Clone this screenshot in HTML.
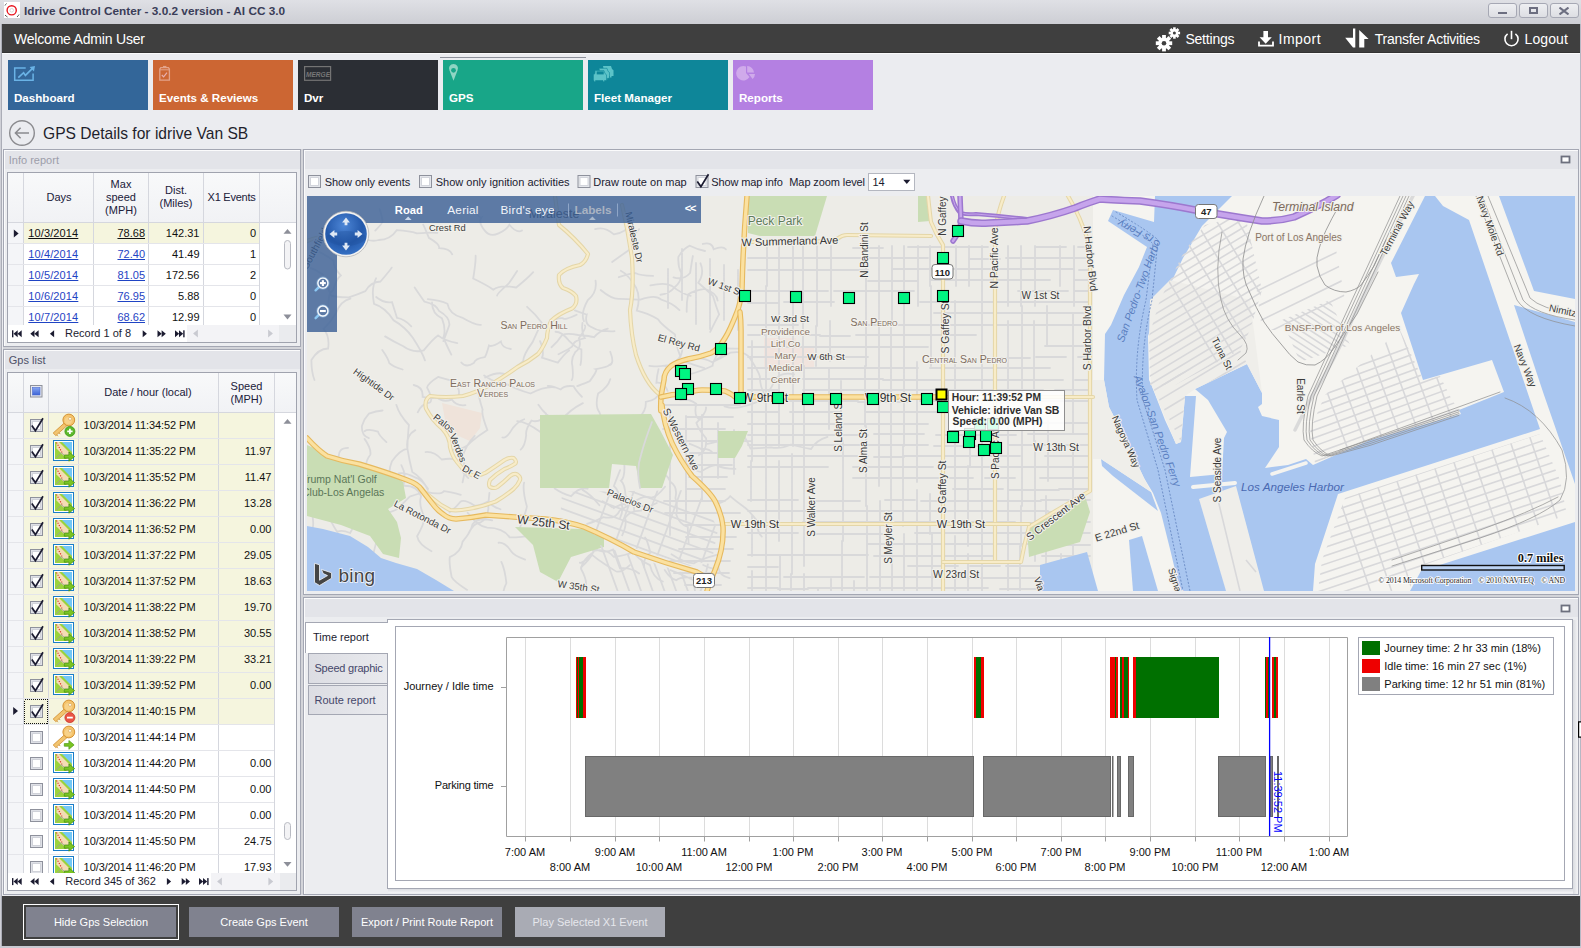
<!DOCTYPE html><html><head><meta charset="utf-8"><style>
*{box-sizing:border-box;margin:0;padding:0}
html,body{width:1581px;height:948px;overflow:hidden}
body{position:relative;background:#ebecf0;font-family:"Liberation Sans",sans-serif;font-size:11px;color:#1e1e1e}
.a{position:absolute}
.nw{white-space:nowrap}
#tb{left:0;top:0;width:1581px;height:24px;background:linear-gradient(#dfe0e5,#cdced4)}
#tbt{left:24px;top:4px;font-weight:bold;font-size:11.8px;color:#3a3d58;white-space:nowrap}
.wb{top:3px;width:29px;height:15px;border:1px solid #a6a8b4;border-radius:3px;background:linear-gradient(#eeeff2,#dddee3)}
#hdr{left:2px;top:24px;width:1578px;height:29px;background:#3f3f3f;color:#fff;border-bottom:1px solid #333}
#hdr .t{position:absolute;top:6px;font-size:14px;white-space:nowrap}
.tile{position:absolute;top:60px;width:140px;height:50px;color:#fff;font-weight:bold;font-size:12px}
.tile span{position:absolute;left:6px;top:31px;white-space:nowrap}
.tile svg{position:absolute;left:0;top:0}
.panel{position:absolute;border:1px solid #a4a7b3;background:#ecedf0}
.panel .ph{position:absolute;left:0;top:0;right:0;height:19px;background:#e3e4e8;border-top:1px solid #fdfdfe;border-left:1px solid #fdfdfe}
.panel .ph span{position:absolute;left:4px;top:3px;font-size:11px}
.grid{position:absolute;background:#fff;border:1px solid #a4a7b3;overflow:hidden}
.btn{position:absolute;top:907px;height:30px;background:#7b7e8c;color:#fff;font-size:12px;text-align:center;line-height:30px;white-space:nowrap}
.hc{position:absolute;top:0;height:49px;background:linear-gradient(#f7f8fa,#eff0f3);border-right:1px solid #d3d5dc;text-align:center;color:#1e1e2e}
.cell{position:absolute;white-space:nowrap}
.lk{color:#2046c8;text-decoration:underline}
</style></head><body>
<div id="tb" class="a"></div>
<svg class="a" style="left:4px;top:2px" width="16" height="16" viewBox="0 0 16 16">
<rect width="16" height="16" fill="#fff"/>
<circle cx="7.7" cy="8.3" r="4.6" fill="none" stroke="#e8141e" stroke-width="1.4"/>
<circle cx="7.7" cy="8.3" r="1.8" fill="none" stroke="#c8c8c8" stroke-width="0.7"/>
<path d="M1 3.5 A9 9 0 0 1 2.5 1.5 M1 13 A9 9 0 0 0 3.5 15 M13 15 A9 9 0 0 0 15 12.5" stroke="#555" stroke-width="1" fill="none"/>
</svg>
<div id="tbt" class="a">Idrive Control Center - 3.0.2 version - AI CC 3.0</div>
<div class="a wb" style="left:1488px"></div>
<div class="a wb" style="left:1519px"></div>
<div class="a wb" style="left:1550px"></div>
<div class="a" style="left:1498px;top:12px;width:9px;height:2px;background:#6c6e80"></div>
<div class="a" style="left:1529px;top:7px;width:9px;height:7px;border:2px solid #6c6e80"></div>
<svg class="a" style="left:1559px;top:7px" width="10" height="8"><path d="M0.5 0.5 L9.5 7.5 M9.5 0.5 L0.5 7.5" stroke="#6c6e80" stroke-width="2"/></svg>
<div class="a" style="left:0;top:24px;width:2px;height:924px;background:#cfd0d7"></div>
<div class="a" style="left:1px;top:24px;width:1px;height:924px;background:#abadb7"></div>
<div class="a" style="left:2px;top:53px;width:1578px;height:1px;background:#fafafb"></div>
<div class="a" style="left:1580px;top:24px;width:1px;height:924px;background:#b6b8c4"></div>
<div class="a" style="left:0;top:946px;width:1581px;height:2px;background:#c9cad2"></div>
<div id="hdr" class="a">
 <div class="t" style="left:12px;font-size:14px;top:7px;letter-spacing:-0.2px">Welcome Admin User</div>
 <div class="t" style="left:1183.4px;top:7px;letter-spacing:-0.2px">Settings</div>
 <div class="t" style="left:1276.6px;top:7px;letter-spacing:0.45px">Import</div>
 <div class="t" style="left:1372.8px;top:7px;letter-spacing:-0.27px">Transfer Activities</div>
 <div class="t" style="left:1522.5px;top:7px;letter-spacing:0.1px">Logout</div>
</div>
<svg class="a" style="left:1150px;top:24px" width="40" height="28" viewBox="1150 24 40 28"><g fill="#fff"><g transform="translate(1164,43.2)"><circle r="5.6"/><rect x="-1.9" y="-8.2" width="3.8" height="4" transform="rotate(0)"/><rect x="-1.9" y="-8.2" width="3.8" height="4" transform="rotate(45)"/><rect x="-1.9" y="-8.2" width="3.8" height="4" transform="rotate(90)"/><rect x="-1.9" y="-8.2" width="3.8" height="4" transform="rotate(135)"/><rect x="-1.9" y="-8.2" width="3.8" height="4" transform="rotate(180)"/><rect x="-1.9" y="-8.2" width="3.8" height="4" transform="rotate(225)"/><rect x="-1.9" y="-8.2" width="3.8" height="4" transform="rotate(270)"/><rect x="-1.9" y="-8.2" width="3.8" height="4" transform="rotate(315)"/><circle r="2.3" fill="#3f3f3f"/></g><g transform="translate(1174.4,33)"><circle r="3.9"/><rect x="-1.3" y="-5.7" width="2.6" height="3" transform="rotate(0)"/><rect x="-1.3" y="-5.7" width="2.6" height="3" transform="rotate(45)"/><rect x="-1.3" y="-5.7" width="2.6" height="3" transform="rotate(90)"/><rect x="-1.3" y="-5.7" width="2.6" height="3" transform="rotate(135)"/><rect x="-1.3" y="-5.7" width="2.6" height="3" transform="rotate(180)"/><rect x="-1.3" y="-5.7" width="2.6" height="3" transform="rotate(225)"/><rect x="-1.3" y="-5.7" width="2.6" height="3" transform="rotate(270)"/><rect x="-1.3" y="-5.7" width="2.6" height="3" transform="rotate(315)"/><circle r="1.5" fill="#3f3f3f"/></g></g></svg>
<svg class="a" style="left:1255px;top:28px" width="22" height="22" viewBox="1255 28 22 22">
<path d="M1263.4 31 h4.6 v6.2 h3.8 l-6.1 6.6 l-6.1 -6.6 h3.8z" fill="#fff"/>
<path d="M1259 41.5 v4.2 h14 v-4.2" fill="none" stroke="#fff" stroke-width="1.8"/>
</svg>
<svg class="a" style="left:1343px;top:27px" width="28" height="23" viewBox="1343 27 28 23">
<path d="M1353 28.6 h2.3 v19 h-2.3 l-7.8 -9.8 h7.8z" fill="#fff"/>
<path d="M1359.2 47.6 v-17.6 l9.4 9 h-4.3 v8.6z" fill="#fff"/>
</svg>
<svg class="a" style="left:1501px;top:28px" width="22" height="22" viewBox="1501 28 22 22">
<path d="M1507.6 33.8 A6.6 6.6 0 1 0 1515.4 33.8" fill="none" stroke="#fff" stroke-width="1.6"/>
<path d="M1511.5 30.8 v8.4" stroke="#fff" stroke-width="1.6"/>
</svg>
<div class="tile" style="left:8px;background:#336699"><span style="font-size:11.6px;top:30.5px">Dashboard</span></div>
<svg class="a" style="left:8px;top:60px" width="40" height="25" viewBox="8 60 40 25"><path d="M25.7 67.9 H14.7 V80.3 H33.1 V73.5" fill="none" stroke="#6ab3e6" stroke-width="1.5"/>
<path d="M18.3 77.7 L23.6 72.7 L25.4 75.4 L33.2 67.6" fill="none" stroke="#6ab3e6" stroke-width="1.6"/>
<path d="M35 66 L29.6 67 L34 71.4z" fill="#6ab3e6"/></svg>
<div class="tile" style="left:153px;background:#cc6633"><span style="font-size:11.6px;top:30.5px">Events &amp; Reviews</span></div>
<svg class="a" style="left:153px;top:60px" width="40" height="25" viewBox="153 60 40 25"><path d="M159.8 69 V80.2 H169.4 V69 l-1 -1.3 H160.8z" fill="none" stroke="#e3a38a" stroke-width="1.3"/>
<path d="M160 69.8 H169.2" stroke="#e3a38a" stroke-width="1"/>
<rect x="163" y="65.9" width="3.4" height="1.6" fill="#e3a38a"/>
<path d="M161.8 75 L163.6 76.8 L167 72.7" fill="none" stroke="#e8b0b0" stroke-width="1.2"/></svg>
<div class="tile" style="left:298px;background:#2b2e34"><span style="font-size:11.6px;top:30.5px">Dvr</span></div>
<svg class="a" style="left:298px;top:60px" width="40" height="25" viewBox="298 60 40 25"><rect x="304.6" y="66.6" width="26" height="13.7" fill="none" stroke="#747474" stroke-width="1.2"/>
<text x="306" y="77" font-family="Liberation Sans" font-weight="bold" font-style="italic" font-size="6.5" fill="#777" textLength="24" lengthAdjust="spacingAndGlyphs">MERGE</text></svg>
<div class="tile" style="left:443px;background:#18a688"><span style="font-size:11.6px;top:30.5px">GPS</span></div>
<svg class="a" style="left:443px;top:60px" width="40" height="25" viewBox="443 60 40 25"><path d="M453.5 80.8 L449.5 70.5 A4.5 4.5 0 1 1 457.5 70.5z" fill="#8fd5c3"/>
<circle cx="453.5" cy="70.3" r="2.4" fill="#18a688"/></svg>
<div class="tile" style="left:588px;background:#0e8699"><span style="font-size:11.6px;top:30.5px">Fleet Manager</span></div>
<svg class="a" style="left:588px;top:60px" width="40" height="25" viewBox="588 60 40 25"><g fill="#5cc3c8">
<path d="M603 66 h8 l1 3 l1.5 1.2 v5.8 h-2 v1.5 h-1.5 v-1.5 h-5z"/>
<path d="M599 68.3 h8 l1 3 l1.5 1.2 v5.8 h-2 v1.5 h-1.5 v-1.5 h-5z" stroke="#0e8699" stroke-width="0.6"/>
<path d="M595 70.6 h9 l1 3 l1.5 1.2 v5.8 h-2 v1.2 h-1.5 v-1.2 h-7.5 v1.2 h-1.5 v-1.2 h-0.6 v-5.8 l1.5 -1.2z" stroke="#0e8699" stroke-width="0.6"/>
</g>
<rect x="596.7" y="71.4" width="7" height="3" fill="#0e8699"/></svg>
<div class="tile" style="left:733px;background:#b480e2"><span style="font-size:11.6px;top:30.5px">Reports</span></div>
<svg class="a" style="left:733px;top:60px" width="40" height="25" viewBox="733 60 40 25"><path d="M746 66.5 V73 L749.5 77 A7.2 7.2 0 1 1 746 66.5z" fill="#d0aaeb"/>
<path d="M747.2 66 A7 7 0 0 1 754 72.5 H747.2z" fill="#d0aaeb"/>
<path d="M748.8 74 H755 A7 7 0 0 1 752.6 79z" fill="#d0aaeb"/></svg>
<div class="a" style="left:440px;top:57px;width:146px;height:1px;background:#8d909a"></div>
<svg class="a" style="left:8px;top:119px" width="28" height="28" viewBox="8 119 28 28">
<circle cx="22" cy="133" r="12.3" fill="none" stroke="#8b8b8f" stroke-width="1.4"/>
<path d="M15.5 133 H29 M20.6 127.8 L15.4 133 L20.6 138.2" fill="none" stroke="#8b8b8f" stroke-width="1.5"/>
</svg>
<div class="a nw" style="left:43px;top:124px;font-size:17px;color:#1f1f2c;transform:scaleX(0.918);transform-origin:0 0">GPS Details for idrive Van SB</div>
<div class="a" style="left:3px;top:149px;width:298px;height:198px;background:#ecedf0;border:1px solid #a4a7b3"></div>
<div class="a" style="left:4px;top:150px;width:296px;height:1px;background:#fbfbfc;"></div>
<div class="a" style="left:4px;top:150px;width:1px;height:196px;background:#fbfbfc;"></div>
<div class="a" style="left:5px;top:151px;width:295px;height:18px;background:#e3e4e9;"></div>
<div class="a nw" style="top:154.69px;font-size:11px;line-height:11px;color:#9d9eaa;left:8.8px;">Info report</div>
<div class="a" style="left:3px;top:347px;width:298px;height:2px;background:#d3d4d9;"></div>
<div class="a" style="left:301px;top:149px;width:2px;height:746px;background:#d3d4d9;"></div>
<div class="a" style="left:7px;top:172px;width:290px;height:171px;background:#fff;border:1px solid #a0a3ae"></div>
<div class="a" style="left:8px;top:173px;width:288px;height:49px;background:linear-gradient(#f8f9fa,#f1f2f5);"></div>
<div class="a" style="left:8px;top:222px;width:288px;height:1px;background:#d5d7de;"></div>
<div class="a" style="left:23px;top:173px;width:1px;height:50px;background:#d5d7de;"></div>
<div class="a" style="left:93px;top:173px;width:1px;height:50px;background:#d5d7de;"></div>
<div class="a" style="left:148px;top:173px;width:1px;height:50px;background:#d5d7de;"></div>
<div class="a" style="left:203px;top:173px;width:1px;height:50px;background:#d5d7de;"></div>
<div class="a" style="left:259px;top:173px;width:1px;height:50px;background:#d5d7de;"></div>
<div class="a" style="left:8px;top:223px;width:15px;height:102px;background:#f4f5f8;"></div>
<div class="a nw" style="top:191.69px;font-size:11px;line-height:11px;color:#20203a;left:-141.0px;width:400px;text-align:center;">Days</div>
<div class="a nw" style="top:178.69px;font-size:11px;line-height:11px;color:#20203a;left:-79.0px;width:400px;text-align:center;">Max</div>
<div class="a nw" style="top:191.69px;font-size:11px;line-height:11px;color:#20203a;left:-79.0px;width:400px;text-align:center;">speed</div>
<div class="a nw" style="top:204.69px;font-size:11px;line-height:11px;color:#20203a;left:-79.0px;width:400px;text-align:center;">(MPH)</div>
<div class="a nw" style="top:185.19px;font-size:11px;line-height:11px;color:#20203a;left:-24.0px;width:400px;text-align:center;">Dist.</div>
<div class="a nw" style="top:198.19px;font-size:11px;line-height:11px;color:#20203a;left:-24.0px;width:400px;text-align:center;">(Miles)</div>
<div class="a nw" style="top:191.69px;font-size:11px;line-height:11px;color:#20203a;left:31.5px;width:400px;text-align:center;letter-spacing:-0.25px">X1 Events</div>
<div class="a" style="left:0;top:0;width:300px;height:325px;overflow:hidden">
<div class="a" style="left:24px;top:223px;width:235px;height:20px;background:#f5f5de;"></div>
<div class="a" style="left:23px;top:223px;width:1px;height:21px;background:#d5d7de;"></div>
<div class="a" style="left:93px;top:223px;width:1px;height:21px;background:#d5d7de;"></div>
<div class="a" style="left:148px;top:223px;width:1px;height:21px;background:#d5d7de;"></div>
<div class="a" style="left:203px;top:223px;width:1px;height:21px;background:#d5d7de;"></div>
<div class="a" style="left:259px;top:223px;width:1px;height:21px;background:#d5d7de;"></div>
<div class="a" style="left:8px;top:243px;width:251px;height:1px;background:#e4e5ea;"></div>
<div class="a nw" style="top:227.69px;font-size:11px;line-height:11px;color:#111;left:28.3px;letter-spacing:0.12px"><span style="text-decoration:underline">10/3/2014</span></div>
<div class="a nw" style="top:227.69px;font-size:11px;line-height:11px;color:#111;left:-255px;width:400px;text-align:right;"><span style="text-decoration:underline">78.68</span></div>
<div class="a nw" style="top:227.69px;font-size:11px;line-height:11px;color:#111;left:-200.5px;width:400px;text-align:right;">142.31</div>
<div class="a nw" style="top:227.69px;font-size:11px;line-height:11px;color:#111;left:-144px;width:400px;text-align:right;">0</div>
<div class="a" style="left:23px;top:244px;width:1px;height:21px;background:#d5d7de;"></div>
<div class="a" style="left:93px;top:244px;width:1px;height:21px;background:#d5d7de;"></div>
<div class="a" style="left:148px;top:244px;width:1px;height:21px;background:#d5d7de;"></div>
<div class="a" style="left:203px;top:244px;width:1px;height:21px;background:#d5d7de;"></div>
<div class="a" style="left:259px;top:244px;width:1px;height:21px;background:#d5d7de;"></div>
<div class="a" style="left:8px;top:264px;width:251px;height:1px;background:#e4e5ea;"></div>
<div class="a nw" style="top:248.69px;font-size:11px;line-height:11px;color:#1f44c4;left:28.3px;letter-spacing:0.12px"><span style="text-decoration:underline">10/4/2014</span></div>
<div class="a nw" style="top:248.69px;font-size:11px;line-height:11px;color:#1f44c4;left:-255px;width:400px;text-align:right;"><span style="text-decoration:underline">72.40</span></div>
<div class="a nw" style="top:248.69px;font-size:11px;line-height:11px;color:#111;left:-200.5px;width:400px;text-align:right;">41.49</div>
<div class="a nw" style="top:248.69px;font-size:11px;line-height:11px;color:#111;left:-144px;width:400px;text-align:right;">1</div>
<div class="a" style="left:23px;top:265px;width:1px;height:21px;background:#d5d7de;"></div>
<div class="a" style="left:93px;top:265px;width:1px;height:21px;background:#d5d7de;"></div>
<div class="a" style="left:148px;top:265px;width:1px;height:21px;background:#d5d7de;"></div>
<div class="a" style="left:203px;top:265px;width:1px;height:21px;background:#d5d7de;"></div>
<div class="a" style="left:259px;top:265px;width:1px;height:21px;background:#d5d7de;"></div>
<div class="a" style="left:8px;top:285px;width:251px;height:1px;background:#e4e5ea;"></div>
<div class="a nw" style="top:269.69px;font-size:11px;line-height:11px;color:#1f44c4;left:28.3px;letter-spacing:0.12px"><span style="text-decoration:underline">10/5/2014</span></div>
<div class="a nw" style="top:269.69px;font-size:11px;line-height:11px;color:#1f44c4;left:-255px;width:400px;text-align:right;"><span style="text-decoration:underline">81.05</span></div>
<div class="a nw" style="top:269.69px;font-size:11px;line-height:11px;color:#111;left:-200.5px;width:400px;text-align:right;">172.56</div>
<div class="a nw" style="top:269.69px;font-size:11px;line-height:11px;color:#111;left:-144px;width:400px;text-align:right;">2</div>
<div class="a" style="left:23px;top:286px;width:1px;height:21px;background:#d5d7de;"></div>
<div class="a" style="left:93px;top:286px;width:1px;height:21px;background:#d5d7de;"></div>
<div class="a" style="left:148px;top:286px;width:1px;height:21px;background:#d5d7de;"></div>
<div class="a" style="left:203px;top:286px;width:1px;height:21px;background:#d5d7de;"></div>
<div class="a" style="left:259px;top:286px;width:1px;height:21px;background:#d5d7de;"></div>
<div class="a" style="left:8px;top:306px;width:251px;height:1px;background:#e4e5ea;"></div>
<div class="a nw" style="top:290.69px;font-size:11px;line-height:11px;color:#1f44c4;left:28.3px;letter-spacing:0.12px"><span style="text-decoration:underline">10/6/2014</span></div>
<div class="a nw" style="top:290.69px;font-size:11px;line-height:11px;color:#1f44c4;left:-255px;width:400px;text-align:right;"><span style="text-decoration:underline">76.95</span></div>
<div class="a nw" style="top:290.69px;font-size:11px;line-height:11px;color:#111;left:-200.5px;width:400px;text-align:right;">5.88</div>
<div class="a nw" style="top:290.69px;font-size:11px;line-height:11px;color:#111;left:-144px;width:400px;text-align:right;">0</div>
<div class="a" style="left:23px;top:307px;width:1px;height:21px;background:#d5d7de;"></div>
<div class="a" style="left:93px;top:307px;width:1px;height:21px;background:#d5d7de;"></div>
<div class="a" style="left:148px;top:307px;width:1px;height:21px;background:#d5d7de;"></div>
<div class="a" style="left:203px;top:307px;width:1px;height:21px;background:#d5d7de;"></div>
<div class="a" style="left:259px;top:307px;width:1px;height:21px;background:#d5d7de;"></div>
<div class="a" style="left:8px;top:327px;width:251px;height:1px;background:#e4e5ea;"></div>
<div class="a nw" style="top:311.69px;font-size:11px;line-height:11px;color:#1f44c4;left:28.3px;letter-spacing:0.12px"><span style="text-decoration:underline">10/7/2014</span></div>
<div class="a nw" style="top:311.69px;font-size:11px;line-height:11px;color:#1f44c4;left:-255px;width:400px;text-align:right;"><span style="text-decoration:underline">68.62</span></div>
<div class="a nw" style="top:311.69px;font-size:11px;line-height:11px;color:#111;left:-200.5px;width:400px;text-align:right;">12.99</div>
<div class="a nw" style="top:311.69px;font-size:11px;line-height:11px;color:#111;left:-144px;width:400px;text-align:right;">0</div>
</div>
<svg class="a" style="left:10px;top:224px" width="10" height="16" viewBox="10 224 10 16"><polygon points="13.799999999999999,229.4 18.599999999999998,233.4 13.799999999999999,237.4" fill="#1b1b30"/></svg>
<svg class="a" style="left:279px;top:223px" width="17" height="102" viewBox="279 223 17 102"><polygon points="283.5,233.70000000000002 287.5,228.9 291.5,233.70000000000002" fill="#8d8f99"/><polygon points="283.5,314.6 287.5,319.4 291.5,314.6" fill="#8d8f99"/><rect x="284.5" y="240.5" width="6" height="28.5" rx="3" fill="#f3f3f5" stroke="#b9bbc3"/></svg>
<div class="a" style="left:8px;top:325px;width:179px;height:17px;background:#fff;"></div>
<div class="a" style="left:187px;top:325px;width:92px;height:17px;background:#f3f3f6;"></div>
<div class="a" style="left:279px;top:325px;width:17px;height:17px;background:#eaebee;"></div>
<svg class="a" style="left:8px;top:325px" width="288" height="17" viewBox="8 325 288 17"><rect x="12" y="330.3" width="1.4" height="7" fill="#1b1b30"/><polygon points="17.7,330.3 13.5,333.8 17.7,337.3" fill="#1b1b30"/><polygon points="21.700000000000003,330.3 17.5,333.8 21.700000000000003,337.3" fill="#1b1b30"/><polygon points="34.5,330.3 30.299999999999997,333.8 34.5,337.3" fill="#1b1b30"/><polygon points="38.6,330.3 34.4,333.8 38.6,337.3" fill="#1b1b30"/><polygon points="54.1,330.3 49.9,333.8 54.1,337.3" fill="#1b1b30"/><polygon points="142.70000000000002,330.3 146.9,333.8 142.70000000000002,337.3" fill="#1b1b30"/><polygon points="157.5,330.3 161.7,333.8 157.5,337.3" fill="#1b1b30"/><polygon points="161.6,330.3 165.79999999999998,333.8 161.6,337.3" fill="#1b1b30"/><polygon points="175.0,330.3 179.2,333.8 175.0,337.3" fill="#1b1b30"/><polygon points="179.0,330.3 183.2,333.8 179.0,337.3" fill="#1b1b30"/><rect x="183.2" y="330.3" width="1.4" height="7" fill="#1b1b30"/><polygon points="197.9,329.6 193.1,333.6 197.9,337.6" fill="#c9cad1"/><polygon points="268.1,329.6 272.9,333.6 268.1,337.6" fill="#c9cad1"/></svg>
<div class="a nw" style="top:328.19px;font-size:11px;line-height:11px;color:#1b1b30;left:65px;">Record 1 of 8</div>
<div class="a" style="left:3px;top:349px;width:298px;height:546px;background:#ecedf0;border:1px solid #a4a7b3"></div>
<div class="a" style="left:4px;top:350px;width:296px;height:1px;background:#fbfbfc;"></div>
<div class="a" style="left:4px;top:350px;width:1px;height:544px;background:#fbfbfc;"></div>
<div class="a" style="left:5px;top:351px;width:295px;height:18px;background:#e3e4e9;"></div>
<div class="a nw" style="top:354.69px;font-size:11px;line-height:11px;color:#4e5068;left:8.8px;">Gps list</div>
<div class="a" style="left:7px;top:372px;width:290px;height:519px;background:#fff;border:1px solid #a0a3ae"></div>
<div class="a" style="left:8px;top:373px;width:288px;height:39px;background:linear-gradient(#f8f9fa,#f1f2f5);"></div>
<div class="a" style="left:8px;top:412px;width:288px;height:1px;background:#d5d7de;"></div>
<div class="a" style="left:23px;top:373px;width:1px;height:40px;background:#d5d7de;"></div>
<div class="a" style="left:48px;top:373px;width:1px;height:40px;background:#d5d7de;"></div>
<div class="a" style="left:78px;top:373px;width:1px;height:40px;background:#d5d7de;"></div>
<div class="a" style="left:218px;top:373px;width:1px;height:40px;background:#d5d7de;"></div>
<div class="a" style="left:274px;top:373px;width:1px;height:40px;background:#d5d7de;"></div>
<div class="a nw" style="top:386.69px;font-size:11px;line-height:11px;color:#20203a;left:-52.0px;width:400px;text-align:center;">Date / hour (local)</div>
<div class="a nw" style="top:380.69px;font-size:11px;line-height:11px;color:#20203a;left:46.5px;width:400px;text-align:center;">Speed</div>
<div class="a nw" style="top:393.69px;font-size:11px;line-height:11px;color:#20203a;left:46.5px;width:400px;text-align:center;">(MPH)</div>
<svg class="a" style="left:29px;top:384px" width="15" height="15" viewBox="29 384 15 15"><rect x="30.5" y="385.5" width="11.5" height="11.5" fill="#e6e8ee" stroke="#8e919c"/><defs><linearGradient id="hcb" x1="0" y1="0" x2="0" y2="1"><stop offset="0" stop-color="#86a6f2"/><stop offset="1" stop-color="#3c63d6"/></linearGradient></defs><rect x="32.5" y="387.5" width="7.5" height="7.5" fill="url(#hcb)" stroke="#4a6ad0" stroke-width="0.6"/></svg>
<div class="a" style="left:0;top:0;width:300px;height:873px;overflow:hidden">
<div class="a" style="left:8px;top:413px;width:15px;height:460px;background:#f4f5f8;"></div>
<div class="a" style="left:24px;top:413px;width:250px;height:25px;background:#f5f5de;"></div>
<div class="a" style="left:23px;top:413px;width:1px;height:26px;background:#d5d7de;"></div>
<div class="a" style="left:48px;top:413px;width:1px;height:26px;background:#d5d7de;"></div>
<div class="a" style="left:78px;top:413px;width:1px;height:26px;background:#d5d7de;"></div>
<div class="a" style="left:218px;top:413px;width:1px;height:26px;background:#d5d7de;"></div>
<div class="a" style="left:274px;top:413px;width:1px;height:26px;background:#d5d7de;"></div>
<div class="a" style="left:8px;top:438px;width:266px;height:1px;background:#e4e5ea;"></div>
<div class="a nw" style="top:419.69px;font-size:11px;line-height:11px;color:#111;left:83.6px;letter-spacing:-0.08px">10/3/2014 11:34:52 PM</div>
<div class="a" style="left:24px;top:439px;width:250px;height:25px;background:#f5f5de;"></div>
<div class="a" style="left:23px;top:439px;width:1px;height:26px;background:#d5d7de;"></div>
<div class="a" style="left:48px;top:439px;width:1px;height:26px;background:#d5d7de;"></div>
<div class="a" style="left:78px;top:439px;width:1px;height:26px;background:#d5d7de;"></div>
<div class="a" style="left:218px;top:439px;width:1px;height:26px;background:#d5d7de;"></div>
<div class="a" style="left:274px;top:439px;width:1px;height:26px;background:#d5d7de;"></div>
<div class="a" style="left:8px;top:464px;width:266px;height:1px;background:#e4e5ea;"></div>
<div class="a nw" style="top:445.69px;font-size:11px;line-height:11px;color:#111;left:83.6px;letter-spacing:-0.08px">10/3/2014 11:35:22 PM</div>
<div class="a nw" style="top:445.69px;font-size:11px;line-height:11px;color:#111;left:-128.5px;width:400px;text-align:right;">11.97</div>
<div class="a" style="left:24px;top:465px;width:250px;height:25px;background:#f5f5de;"></div>
<div class="a" style="left:23px;top:465px;width:1px;height:26px;background:#d5d7de;"></div>
<div class="a" style="left:48px;top:465px;width:1px;height:26px;background:#d5d7de;"></div>
<div class="a" style="left:78px;top:465px;width:1px;height:26px;background:#d5d7de;"></div>
<div class="a" style="left:218px;top:465px;width:1px;height:26px;background:#d5d7de;"></div>
<div class="a" style="left:274px;top:465px;width:1px;height:26px;background:#d5d7de;"></div>
<div class="a" style="left:8px;top:490px;width:266px;height:1px;background:#e4e5ea;"></div>
<div class="a nw" style="top:471.69px;font-size:11px;line-height:11px;color:#111;left:83.6px;letter-spacing:-0.08px">10/3/2014 11:35:52 PM</div>
<div class="a nw" style="top:471.69px;font-size:11px;line-height:11px;color:#111;left:-128.5px;width:400px;text-align:right;">11.47</div>
<div class="a" style="left:24px;top:491px;width:250px;height:25px;background:#f5f5de;"></div>
<div class="a" style="left:23px;top:491px;width:1px;height:26px;background:#d5d7de;"></div>
<div class="a" style="left:48px;top:491px;width:1px;height:26px;background:#d5d7de;"></div>
<div class="a" style="left:78px;top:491px;width:1px;height:26px;background:#d5d7de;"></div>
<div class="a" style="left:218px;top:491px;width:1px;height:26px;background:#d5d7de;"></div>
<div class="a" style="left:274px;top:491px;width:1px;height:26px;background:#d5d7de;"></div>
<div class="a" style="left:8px;top:516px;width:266px;height:1px;background:#e4e5ea;"></div>
<div class="a nw" style="top:497.69px;font-size:11px;line-height:11px;color:#111;left:83.6px;letter-spacing:-0.08px">10/3/2014 11:36:22 PM</div>
<div class="a nw" style="top:497.69px;font-size:11px;line-height:11px;color:#111;left:-128.5px;width:400px;text-align:right;">13.28</div>
<div class="a" style="left:24px;top:517px;width:250px;height:25px;background:#f5f5de;"></div>
<div class="a" style="left:23px;top:517px;width:1px;height:26px;background:#d5d7de;"></div>
<div class="a" style="left:48px;top:517px;width:1px;height:26px;background:#d5d7de;"></div>
<div class="a" style="left:78px;top:517px;width:1px;height:26px;background:#d5d7de;"></div>
<div class="a" style="left:218px;top:517px;width:1px;height:26px;background:#d5d7de;"></div>
<div class="a" style="left:274px;top:517px;width:1px;height:26px;background:#d5d7de;"></div>
<div class="a" style="left:8px;top:542px;width:266px;height:1px;background:#e4e5ea;"></div>
<div class="a nw" style="top:523.69px;font-size:11px;line-height:11px;color:#111;left:83.6px;letter-spacing:-0.08px">10/3/2014 11:36:52 PM</div>
<div class="a nw" style="top:523.69px;font-size:11px;line-height:11px;color:#111;left:-128.5px;width:400px;text-align:right;">0.00</div>
<div class="a" style="left:24px;top:543px;width:250px;height:25px;background:#f5f5de;"></div>
<div class="a" style="left:23px;top:543px;width:1px;height:26px;background:#d5d7de;"></div>
<div class="a" style="left:48px;top:543px;width:1px;height:26px;background:#d5d7de;"></div>
<div class="a" style="left:78px;top:543px;width:1px;height:26px;background:#d5d7de;"></div>
<div class="a" style="left:218px;top:543px;width:1px;height:26px;background:#d5d7de;"></div>
<div class="a" style="left:274px;top:543px;width:1px;height:26px;background:#d5d7de;"></div>
<div class="a" style="left:8px;top:568px;width:266px;height:1px;background:#e4e5ea;"></div>
<div class="a nw" style="top:549.69px;font-size:11px;line-height:11px;color:#111;left:83.6px;letter-spacing:-0.08px">10/3/2014 11:37:22 PM</div>
<div class="a nw" style="top:549.69px;font-size:11px;line-height:11px;color:#111;left:-128.5px;width:400px;text-align:right;">29.05</div>
<div class="a" style="left:24px;top:569px;width:250px;height:25px;background:#f5f5de;"></div>
<div class="a" style="left:23px;top:569px;width:1px;height:26px;background:#d5d7de;"></div>
<div class="a" style="left:48px;top:569px;width:1px;height:26px;background:#d5d7de;"></div>
<div class="a" style="left:78px;top:569px;width:1px;height:26px;background:#d5d7de;"></div>
<div class="a" style="left:218px;top:569px;width:1px;height:26px;background:#d5d7de;"></div>
<div class="a" style="left:274px;top:569px;width:1px;height:26px;background:#d5d7de;"></div>
<div class="a" style="left:8px;top:594px;width:266px;height:1px;background:#e4e5ea;"></div>
<div class="a nw" style="top:575.69px;font-size:11px;line-height:11px;color:#111;left:83.6px;letter-spacing:-0.08px">10/3/2014 11:37:52 PM</div>
<div class="a nw" style="top:575.69px;font-size:11px;line-height:11px;color:#111;left:-128.5px;width:400px;text-align:right;">18.63</div>
<div class="a" style="left:24px;top:595px;width:250px;height:25px;background:#f5f5de;"></div>
<div class="a" style="left:23px;top:595px;width:1px;height:26px;background:#d5d7de;"></div>
<div class="a" style="left:48px;top:595px;width:1px;height:26px;background:#d5d7de;"></div>
<div class="a" style="left:78px;top:595px;width:1px;height:26px;background:#d5d7de;"></div>
<div class="a" style="left:218px;top:595px;width:1px;height:26px;background:#d5d7de;"></div>
<div class="a" style="left:274px;top:595px;width:1px;height:26px;background:#d5d7de;"></div>
<div class="a" style="left:8px;top:620px;width:266px;height:1px;background:#e4e5ea;"></div>
<div class="a nw" style="top:601.69px;font-size:11px;line-height:11px;color:#111;left:83.6px;letter-spacing:-0.08px">10/3/2014 11:38:22 PM</div>
<div class="a nw" style="top:601.69px;font-size:11px;line-height:11px;color:#111;left:-128.5px;width:400px;text-align:right;">19.70</div>
<div class="a" style="left:24px;top:621px;width:250px;height:25px;background:#f5f5de;"></div>
<div class="a" style="left:23px;top:621px;width:1px;height:26px;background:#d5d7de;"></div>
<div class="a" style="left:48px;top:621px;width:1px;height:26px;background:#d5d7de;"></div>
<div class="a" style="left:78px;top:621px;width:1px;height:26px;background:#d5d7de;"></div>
<div class="a" style="left:218px;top:621px;width:1px;height:26px;background:#d5d7de;"></div>
<div class="a" style="left:274px;top:621px;width:1px;height:26px;background:#d5d7de;"></div>
<div class="a" style="left:8px;top:646px;width:266px;height:1px;background:#e4e5ea;"></div>
<div class="a nw" style="top:627.69px;font-size:11px;line-height:11px;color:#111;left:83.6px;letter-spacing:-0.08px">10/3/2014 11:38:52 PM</div>
<div class="a nw" style="top:627.69px;font-size:11px;line-height:11px;color:#111;left:-128.5px;width:400px;text-align:right;">30.55</div>
<div class="a" style="left:24px;top:647px;width:250px;height:25px;background:#f5f5de;"></div>
<div class="a" style="left:23px;top:647px;width:1px;height:26px;background:#d5d7de;"></div>
<div class="a" style="left:48px;top:647px;width:1px;height:26px;background:#d5d7de;"></div>
<div class="a" style="left:78px;top:647px;width:1px;height:26px;background:#d5d7de;"></div>
<div class="a" style="left:218px;top:647px;width:1px;height:26px;background:#d5d7de;"></div>
<div class="a" style="left:274px;top:647px;width:1px;height:26px;background:#d5d7de;"></div>
<div class="a" style="left:8px;top:672px;width:266px;height:1px;background:#e4e5ea;"></div>
<div class="a nw" style="top:653.69px;font-size:11px;line-height:11px;color:#111;left:83.6px;letter-spacing:-0.08px">10/3/2014 11:39:22 PM</div>
<div class="a nw" style="top:653.69px;font-size:11px;line-height:11px;color:#111;left:-128.5px;width:400px;text-align:right;">33.21</div>
<div class="a" style="left:24px;top:673px;width:250px;height:25px;background:#f5f5de;"></div>
<div class="a" style="left:23px;top:673px;width:1px;height:26px;background:#d5d7de;"></div>
<div class="a" style="left:48px;top:673px;width:1px;height:26px;background:#d5d7de;"></div>
<div class="a" style="left:78px;top:673px;width:1px;height:26px;background:#d5d7de;"></div>
<div class="a" style="left:218px;top:673px;width:1px;height:26px;background:#d5d7de;"></div>
<div class="a" style="left:274px;top:673px;width:1px;height:26px;background:#d5d7de;"></div>
<div class="a" style="left:8px;top:698px;width:266px;height:1px;background:#e4e5ea;"></div>
<div class="a nw" style="top:679.69px;font-size:11px;line-height:11px;color:#111;left:83.6px;letter-spacing:-0.08px">10/3/2014 11:39:52 PM</div>
<div class="a nw" style="top:679.69px;font-size:11px;line-height:11px;color:#111;left:-128.5px;width:400px;text-align:right;">0.00</div>
<div class="a" style="left:24px;top:699px;width:250px;height:25px;background:#f5f5de;"></div>
<div class="a" style="left:23px;top:699px;width:1px;height:26px;background:#d5d7de;"></div>
<div class="a" style="left:48px;top:699px;width:1px;height:26px;background:#d5d7de;"></div>
<div class="a" style="left:78px;top:699px;width:1px;height:26px;background:#d5d7de;"></div>
<div class="a" style="left:218px;top:699px;width:1px;height:26px;background:#d5d7de;"></div>
<div class="a" style="left:274px;top:699px;width:1px;height:26px;background:#d5d7de;"></div>
<div class="a" style="left:8px;top:724px;width:266px;height:1px;background:#e4e5ea;"></div>
<div class="a nw" style="top:705.69px;font-size:11px;line-height:11px;color:#111;left:83.6px;letter-spacing:-0.08px">10/3/2014 11:40:15 PM</div>
<div class="a" style="left:23px;top:725px;width:1px;height:26px;background:#d5d7de;"></div>
<div class="a" style="left:48px;top:725px;width:1px;height:26px;background:#d5d7de;"></div>
<div class="a" style="left:78px;top:725px;width:1px;height:26px;background:#d5d7de;"></div>
<div class="a" style="left:218px;top:725px;width:1px;height:26px;background:#d5d7de;"></div>
<div class="a" style="left:274px;top:725px;width:1px;height:26px;background:#d5d7de;"></div>
<div class="a" style="left:8px;top:750px;width:266px;height:1px;background:#e4e5ea;"></div>
<div class="a nw" style="top:731.69px;font-size:11px;line-height:11px;color:#111;left:83.6px;letter-spacing:-0.08px">10/3/2014 11:44:14 PM</div>
<div class="a" style="left:23px;top:751px;width:1px;height:26px;background:#d5d7de;"></div>
<div class="a" style="left:48px;top:751px;width:1px;height:26px;background:#d5d7de;"></div>
<div class="a" style="left:78px;top:751px;width:1px;height:26px;background:#d5d7de;"></div>
<div class="a" style="left:218px;top:751px;width:1px;height:26px;background:#d5d7de;"></div>
<div class="a" style="left:274px;top:751px;width:1px;height:26px;background:#d5d7de;"></div>
<div class="a" style="left:8px;top:776px;width:266px;height:1px;background:#e4e5ea;"></div>
<div class="a nw" style="top:757.69px;font-size:11px;line-height:11px;color:#111;left:83.6px;letter-spacing:-0.08px">10/3/2014 11:44:20 PM</div>
<div class="a nw" style="top:757.69px;font-size:11px;line-height:11px;color:#111;left:-128.5px;width:400px;text-align:right;">0.00</div>
<div class="a" style="left:23px;top:777px;width:1px;height:26px;background:#d5d7de;"></div>
<div class="a" style="left:48px;top:777px;width:1px;height:26px;background:#d5d7de;"></div>
<div class="a" style="left:78px;top:777px;width:1px;height:26px;background:#d5d7de;"></div>
<div class="a" style="left:218px;top:777px;width:1px;height:26px;background:#d5d7de;"></div>
<div class="a" style="left:274px;top:777px;width:1px;height:26px;background:#d5d7de;"></div>
<div class="a" style="left:8px;top:802px;width:266px;height:1px;background:#e4e5ea;"></div>
<div class="a nw" style="top:783.69px;font-size:11px;line-height:11px;color:#111;left:83.6px;letter-spacing:-0.08px">10/3/2014 11:44:50 PM</div>
<div class="a nw" style="top:783.69px;font-size:11px;line-height:11px;color:#111;left:-128.5px;width:400px;text-align:right;">0.00</div>
<div class="a" style="left:23px;top:803px;width:1px;height:26px;background:#d5d7de;"></div>
<div class="a" style="left:48px;top:803px;width:1px;height:26px;background:#d5d7de;"></div>
<div class="a" style="left:78px;top:803px;width:1px;height:26px;background:#d5d7de;"></div>
<div class="a" style="left:218px;top:803px;width:1px;height:26px;background:#d5d7de;"></div>
<div class="a" style="left:274px;top:803px;width:1px;height:26px;background:#d5d7de;"></div>
<div class="a" style="left:8px;top:828px;width:266px;height:1px;background:#e4e5ea;"></div>
<div class="a nw" style="top:809.69px;font-size:11px;line-height:11px;color:#111;left:83.6px;letter-spacing:-0.08px">10/3/2014 11:45:20 PM</div>
<div class="a nw" style="top:809.69px;font-size:11px;line-height:11px;color:#111;left:-128.5px;width:400px;text-align:right;">0.00</div>
<div class="a" style="left:23px;top:829px;width:1px;height:26px;background:#d5d7de;"></div>
<div class="a" style="left:48px;top:829px;width:1px;height:26px;background:#d5d7de;"></div>
<div class="a" style="left:78px;top:829px;width:1px;height:26px;background:#d5d7de;"></div>
<div class="a" style="left:218px;top:829px;width:1px;height:26px;background:#d5d7de;"></div>
<div class="a" style="left:274px;top:829px;width:1px;height:26px;background:#d5d7de;"></div>
<div class="a" style="left:8px;top:854px;width:266px;height:1px;background:#e4e5ea;"></div>
<div class="a nw" style="top:835.69px;font-size:11px;line-height:11px;color:#111;left:83.6px;letter-spacing:-0.08px">10/3/2014 11:45:50 PM</div>
<div class="a nw" style="top:835.69px;font-size:11px;line-height:11px;color:#111;left:-128.5px;width:400px;text-align:right;">24.75</div>
<div class="a" style="left:23px;top:855px;width:1px;height:26px;background:#d5d7de;"></div>
<div class="a" style="left:48px;top:855px;width:1px;height:26px;background:#d5d7de;"></div>
<div class="a" style="left:78px;top:855px;width:1px;height:26px;background:#d5d7de;"></div>
<div class="a" style="left:218px;top:855px;width:1px;height:26px;background:#d5d7de;"></div>
<div class="a" style="left:274px;top:855px;width:1px;height:26px;background:#d5d7de;"></div>
<div class="a" style="left:8px;top:880px;width:266px;height:1px;background:#e4e5ea;"></div>
<div class="a nw" style="top:861.69px;font-size:11px;line-height:11px;color:#111;left:83.6px;letter-spacing:-0.08px">10/3/2014 11:46:20 PM</div>
<div class="a nw" style="top:861.69px;font-size:11px;line-height:11px;color:#111;left:-128.5px;width:400px;text-align:right;">17.93</div>
<svg class="a" style="left:0;top:0" width="300" height="873" viewBox="0 0 300 873"><rect x="30.5" y="419.5" width="12" height="12" fill="#dfe1e7" stroke="#8e919c"/><rect x="32.5" y="421.5" width="8" height="8" fill="#fff" stroke="#d0d2d9" stroke-width="1"/><path d="M31.8 425.4 L35.4 430.6 L43 418.2" fill="none" stroke="#1b1b30" stroke-width="1.7"/><g transform="translate(0,0)"><g><path d="M53.2 433 L65.6 421.8 L68.2 424.6 L55.8 435.6 Z" fill="#f2c46f" stroke="#cf8c2c" stroke-width="0.8"/><path d="M56.6 434.9 l1.3 1.3 M59 432.8 l1.3 1.3" stroke="#cf8c2c" stroke-width="0.9"/><circle cx="68.8" cy="420" r="5.9" fill="#f5c46c" stroke="#d08a2a" stroke-width="0.9"/><circle cx="68.3" cy="420.6" r="3.6" fill="#f8d289"/><circle cx="70" cy="418.8" r="1.5" fill="#fffbe8" stroke="#c89040" stroke-width="0.5"/></g><circle cx="69.9" cy="431.4" r="5" fill="#5cb82a" stroke="#3e9a18" stroke-width="0.8"/><path d="M67.2 431.4 h5.4 M69.9 428.7 v5.4" stroke="#fff" stroke-width="1.8"/></g><rect x="30.5" y="445.5" width="12" height="12" fill="#dfe1e7" stroke="#8e919c"/><rect x="32.5" y="447.5" width="8" height="8" fill="#fff" stroke="#d0d2d9" stroke-width="1"/><path d="M31.8 451.4 L35.4 456.6 L43 444.2" fill="none" stroke="#1b1b30" stroke-width="1.7"/><g transform="translate(0,0)"><rect x="53.5" y="440.5" width="20" height="20" fill="#fff" stroke="#1a7cc8"/><rect x="55" y="442" width="17" height="17" fill="#9bd33c"/><path d="M59 442 L72 455 V459 H67 L56.5 448.5 V442z" fill="#f3dcb4"/><path d="M62 442 H72 V452z" fill="#74c8f6"/><path d="M56.5 442.5 L62 452.5" stroke="#e03020" stroke-width="1.1" stroke-dasharray="1.2 1.4"/><path d="M56 458 L61.5 452.8 L64 455" stroke="#9a9a9a" stroke-width="0.8" fill="none"/><path d="M64.3 455 h4.6 v-3 l5.7 4.6 l-5.7 4.6 v-3 h-4.6z" fill="#7ac422" stroke="#3f8c12" stroke-width="0.7"/></g><rect x="30.5" y="471.5" width="12" height="12" fill="#dfe1e7" stroke="#8e919c"/><rect x="32.5" y="473.5" width="8" height="8" fill="#fff" stroke="#d0d2d9" stroke-width="1"/><path d="M31.8 477.4 L35.4 482.6 L43 470.2" fill="none" stroke="#1b1b30" stroke-width="1.7"/><g transform="translate(0,26)"><rect x="53.5" y="440.5" width="20" height="20" fill="#fff" stroke="#1a7cc8"/><rect x="55" y="442" width="17" height="17" fill="#9bd33c"/><path d="M59 442 L72 455 V459 H67 L56.5 448.5 V442z" fill="#f3dcb4"/><path d="M62 442 H72 V452z" fill="#74c8f6"/><path d="M56.5 442.5 L62 452.5" stroke="#e03020" stroke-width="1.1" stroke-dasharray="1.2 1.4"/><path d="M56 458 L61.5 452.8 L64 455" stroke="#9a9a9a" stroke-width="0.8" fill="none"/><path d="M64.3 455 h4.6 v-3 l5.7 4.6 l-5.7 4.6 v-3 h-4.6z" fill="#7ac422" stroke="#3f8c12" stroke-width="0.7"/></g><rect x="30.5" y="497.5" width="12" height="12" fill="#dfe1e7" stroke="#8e919c"/><rect x="32.5" y="499.5" width="8" height="8" fill="#fff" stroke="#d0d2d9" stroke-width="1"/><path d="M31.8 503.4 L35.4 508.6 L43 496.2" fill="none" stroke="#1b1b30" stroke-width="1.7"/><g transform="translate(0,52)"><rect x="53.5" y="440.5" width="20" height="20" fill="#fff" stroke="#1a7cc8"/><rect x="55" y="442" width="17" height="17" fill="#9bd33c"/><path d="M59 442 L72 455 V459 H67 L56.5 448.5 V442z" fill="#f3dcb4"/><path d="M62 442 H72 V452z" fill="#74c8f6"/><path d="M56.5 442.5 L62 452.5" stroke="#e03020" stroke-width="1.1" stroke-dasharray="1.2 1.4"/><path d="M56 458 L61.5 452.8 L64 455" stroke="#9a9a9a" stroke-width="0.8" fill="none"/><path d="M64.3 455 h4.6 v-3 l5.7 4.6 l-5.7 4.6 v-3 h-4.6z" fill="#7ac422" stroke="#3f8c12" stroke-width="0.7"/></g><rect x="30.5" y="523.5" width="12" height="12" fill="#dfe1e7" stroke="#8e919c"/><rect x="32.5" y="525.5" width="8" height="8" fill="#fff" stroke="#d0d2d9" stroke-width="1"/><path d="M31.8 529.4 L35.4 534.6 L43 522.2" fill="none" stroke="#1b1b30" stroke-width="1.7"/><g transform="translate(0,78)"><rect x="53.5" y="440.5" width="20" height="20" fill="#fff" stroke="#1a7cc8"/><rect x="55" y="442" width="17" height="17" fill="#9bd33c"/><path d="M59 442 L72 455 V459 H67 L56.5 448.5 V442z" fill="#f3dcb4"/><path d="M62 442 H72 V452z" fill="#74c8f6"/><path d="M56.5 442.5 L62 452.5" stroke="#e03020" stroke-width="1.1" stroke-dasharray="1.2 1.4"/><path d="M56 458 L61.5 452.8 L64 455" stroke="#9a9a9a" stroke-width="0.8" fill="none"/><path d="M64.3 455 h4.6 v-3 l5.7 4.6 l-5.7 4.6 v-3 h-4.6z" fill="#7ac422" stroke="#3f8c12" stroke-width="0.7"/></g><rect x="30.5" y="549.5" width="12" height="12" fill="#dfe1e7" stroke="#8e919c"/><rect x="32.5" y="551.5" width="8" height="8" fill="#fff" stroke="#d0d2d9" stroke-width="1"/><path d="M31.8 555.4 L35.4 560.6 L43 548.2" fill="none" stroke="#1b1b30" stroke-width="1.7"/><g transform="translate(0,104)"><rect x="53.5" y="440.5" width="20" height="20" fill="#fff" stroke="#1a7cc8"/><rect x="55" y="442" width="17" height="17" fill="#9bd33c"/><path d="M59 442 L72 455 V459 H67 L56.5 448.5 V442z" fill="#f3dcb4"/><path d="M62 442 H72 V452z" fill="#74c8f6"/><path d="M56.5 442.5 L62 452.5" stroke="#e03020" stroke-width="1.1" stroke-dasharray="1.2 1.4"/><path d="M56 458 L61.5 452.8 L64 455" stroke="#9a9a9a" stroke-width="0.8" fill="none"/><path d="M64.3 455 h4.6 v-3 l5.7 4.6 l-5.7 4.6 v-3 h-4.6z" fill="#7ac422" stroke="#3f8c12" stroke-width="0.7"/></g><rect x="30.5" y="575.5" width="12" height="12" fill="#dfe1e7" stroke="#8e919c"/><rect x="32.5" y="577.5" width="8" height="8" fill="#fff" stroke="#d0d2d9" stroke-width="1"/><path d="M31.8 581.4 L35.4 586.6 L43 574.2" fill="none" stroke="#1b1b30" stroke-width="1.7"/><g transform="translate(0,130)"><rect x="53.5" y="440.5" width="20" height="20" fill="#fff" stroke="#1a7cc8"/><rect x="55" y="442" width="17" height="17" fill="#9bd33c"/><path d="M59 442 L72 455 V459 H67 L56.5 448.5 V442z" fill="#f3dcb4"/><path d="M62 442 H72 V452z" fill="#74c8f6"/><path d="M56.5 442.5 L62 452.5" stroke="#e03020" stroke-width="1.1" stroke-dasharray="1.2 1.4"/><path d="M56 458 L61.5 452.8 L64 455" stroke="#9a9a9a" stroke-width="0.8" fill="none"/><path d="M64.3 455 h4.6 v-3 l5.7 4.6 l-5.7 4.6 v-3 h-4.6z" fill="#7ac422" stroke="#3f8c12" stroke-width="0.7"/></g><rect x="30.5" y="601.5" width="12" height="12" fill="#dfe1e7" stroke="#8e919c"/><rect x="32.5" y="603.5" width="8" height="8" fill="#fff" stroke="#d0d2d9" stroke-width="1"/><path d="M31.8 607.4 L35.4 612.6 L43 600.2" fill="none" stroke="#1b1b30" stroke-width="1.7"/><g transform="translate(0,156)"><rect x="53.5" y="440.5" width="20" height="20" fill="#fff" stroke="#1a7cc8"/><rect x="55" y="442" width="17" height="17" fill="#9bd33c"/><path d="M59 442 L72 455 V459 H67 L56.5 448.5 V442z" fill="#f3dcb4"/><path d="M62 442 H72 V452z" fill="#74c8f6"/><path d="M56.5 442.5 L62 452.5" stroke="#e03020" stroke-width="1.1" stroke-dasharray="1.2 1.4"/><path d="M56 458 L61.5 452.8 L64 455" stroke="#9a9a9a" stroke-width="0.8" fill="none"/><path d="M64.3 455 h4.6 v-3 l5.7 4.6 l-5.7 4.6 v-3 h-4.6z" fill="#7ac422" stroke="#3f8c12" stroke-width="0.7"/></g><rect x="30.5" y="627.5" width="12" height="12" fill="#dfe1e7" stroke="#8e919c"/><rect x="32.5" y="629.5" width="8" height="8" fill="#fff" stroke="#d0d2d9" stroke-width="1"/><path d="M31.8 633.4 L35.4 638.6 L43 626.2" fill="none" stroke="#1b1b30" stroke-width="1.7"/><g transform="translate(0,182)"><rect x="53.5" y="440.5" width="20" height="20" fill="#fff" stroke="#1a7cc8"/><rect x="55" y="442" width="17" height="17" fill="#9bd33c"/><path d="M59 442 L72 455 V459 H67 L56.5 448.5 V442z" fill="#f3dcb4"/><path d="M62 442 H72 V452z" fill="#74c8f6"/><path d="M56.5 442.5 L62 452.5" stroke="#e03020" stroke-width="1.1" stroke-dasharray="1.2 1.4"/><path d="M56 458 L61.5 452.8 L64 455" stroke="#9a9a9a" stroke-width="0.8" fill="none"/><path d="M64.3 455 h4.6 v-3 l5.7 4.6 l-5.7 4.6 v-3 h-4.6z" fill="#7ac422" stroke="#3f8c12" stroke-width="0.7"/></g><rect x="30.5" y="653.5" width="12" height="12" fill="#dfe1e7" stroke="#8e919c"/><rect x="32.5" y="655.5" width="8" height="8" fill="#fff" stroke="#d0d2d9" stroke-width="1"/><path d="M31.8 659.4 L35.4 664.6 L43 652.2" fill="none" stroke="#1b1b30" stroke-width="1.7"/><g transform="translate(0,208)"><rect x="53.5" y="440.5" width="20" height="20" fill="#fff" stroke="#1a7cc8"/><rect x="55" y="442" width="17" height="17" fill="#9bd33c"/><path d="M59 442 L72 455 V459 H67 L56.5 448.5 V442z" fill="#f3dcb4"/><path d="M62 442 H72 V452z" fill="#74c8f6"/><path d="M56.5 442.5 L62 452.5" stroke="#e03020" stroke-width="1.1" stroke-dasharray="1.2 1.4"/><path d="M56 458 L61.5 452.8 L64 455" stroke="#9a9a9a" stroke-width="0.8" fill="none"/><path d="M64.3 455 h4.6 v-3 l5.7 4.6 l-5.7 4.6 v-3 h-4.6z" fill="#7ac422" stroke="#3f8c12" stroke-width="0.7"/></g><rect x="30.5" y="679.5" width="12" height="12" fill="#dfe1e7" stroke="#8e919c"/><rect x="32.5" y="681.5" width="8" height="8" fill="#fff" stroke="#d0d2d9" stroke-width="1"/><path d="M31.8 685.4 L35.4 690.6 L43 678.2" fill="none" stroke="#1b1b30" stroke-width="1.7"/><g transform="translate(0,234)"><rect x="53.5" y="440.5" width="20" height="20" fill="#fff" stroke="#1a7cc8"/><rect x="55" y="442" width="17" height="17" fill="#9bd33c"/><path d="M59 442 L72 455 V459 H67 L56.5 448.5 V442z" fill="#f3dcb4"/><path d="M62 442 H72 V452z" fill="#74c8f6"/><path d="M56.5 442.5 L62 452.5" stroke="#e03020" stroke-width="1.1" stroke-dasharray="1.2 1.4"/><path d="M56 458 L61.5 452.8 L64 455" stroke="#9a9a9a" stroke-width="0.8" fill="none"/><path d="M64.3 455 h4.6 v-3 l5.7 4.6 l-5.7 4.6 v-3 h-4.6z" fill="#7ac422" stroke="#3f8c12" stroke-width="0.7"/></g><rect x="30.5" y="705.5" width="12" height="12" fill="#dfe1e7" stroke="#8e919c"/><rect x="32.5" y="707.5" width="8" height="8" fill="#fff" stroke="#d0d2d9" stroke-width="1"/><path d="M31.8 711.4 L35.4 716.6 L43 704.2" fill="none" stroke="#1b1b30" stroke-width="1.7"/><g transform="translate(0,286)"><g><path d="M53.2 433 L65.6 421.8 L68.2 424.6 L55.8 435.6 Z" fill="#f2c46f" stroke="#cf8c2c" stroke-width="0.8"/><path d="M56.6 434.9 l1.3 1.3 M59 432.8 l1.3 1.3" stroke="#cf8c2c" stroke-width="0.9"/><circle cx="68.8" cy="420" r="5.9" fill="#f5c46c" stroke="#d08a2a" stroke-width="0.9"/><circle cx="68.3" cy="420.6" r="3.6" fill="#f8d289"/><circle cx="70" cy="418.8" r="1.5" fill="#fffbe8" stroke="#c89040" stroke-width="0.5"/></g><circle cx="69.9" cy="431.6" r="5" fill="#ea5444" stroke="#c8392c" stroke-width="0.8"/><path d="M67 431.6 h5.8" stroke="#fff" stroke-width="1.8"/></g><rect x="30.5" y="731.5" width="12" height="12" fill="#dfe1e7" stroke="#8e919c"/><rect x="32.5" y="733.5" width="8" height="8" fill="#fff" stroke="#d0d2d9" stroke-width="1"/><g transform="translate(0,312)"><g><path d="M53.2 433 L65.6 421.8 L68.2 424.6 L55.8 435.6 Z" fill="#f2c46f" stroke="#cf8c2c" stroke-width="0.8"/><path d="M56.6 434.9 l1.3 1.3 M59 432.8 l1.3 1.3" stroke="#cf8c2c" stroke-width="0.9"/><circle cx="68.8" cy="420" r="5.9" fill="#f5c46c" stroke="#d08a2a" stroke-width="0.9"/><circle cx="68.3" cy="420.6" r="3.6" fill="#f8d289"/><circle cx="70" cy="418.8" r="1.5" fill="#fffbe8" stroke="#c89040" stroke-width="0.5"/></g><path d="M64.3 431.6 h4.6 v-3.1 l5.2 4.4 l-5.2 4.4 v-3.1 h-4.6z" fill="#7ac422" stroke="#4a9a12" stroke-width="0.7"/></g><rect x="30.5" y="757.5" width="12" height="12" fill="#dfe1e7" stroke="#8e919c"/><rect x="32.5" y="759.5" width="8" height="8" fill="#fff" stroke="#d0d2d9" stroke-width="1"/><g transform="translate(0,312)"><rect x="53.5" y="440.5" width="20" height="20" fill="#fff" stroke="#1a7cc8"/><rect x="55" y="442" width="17" height="17" fill="#9bd33c"/><path d="M59 442 L72 455 V459 H67 L56.5 448.5 V442z" fill="#f3dcb4"/><path d="M62 442 H72 V452z" fill="#74c8f6"/><path d="M56.5 442.5 L62 452.5" stroke="#e03020" stroke-width="1.1" stroke-dasharray="1.2 1.4"/><path d="M56 458 L61.5 452.8 L64 455" stroke="#9a9a9a" stroke-width="0.8" fill="none"/><path d="M64.3 455 h4.6 v-3 l5.7 4.6 l-5.7 4.6 v-3 h-4.6z" fill="#7ac422" stroke="#3f8c12" stroke-width="0.7"/></g><rect x="30.5" y="783.5" width="12" height="12" fill="#dfe1e7" stroke="#8e919c"/><rect x="32.5" y="785.5" width="8" height="8" fill="#fff" stroke="#d0d2d9" stroke-width="1"/><g transform="translate(0,338)"><rect x="53.5" y="440.5" width="20" height="20" fill="#fff" stroke="#1a7cc8"/><rect x="55" y="442" width="17" height="17" fill="#9bd33c"/><path d="M59 442 L72 455 V459 H67 L56.5 448.5 V442z" fill="#f3dcb4"/><path d="M62 442 H72 V452z" fill="#74c8f6"/><path d="M56.5 442.5 L62 452.5" stroke="#e03020" stroke-width="1.1" stroke-dasharray="1.2 1.4"/><path d="M56 458 L61.5 452.8 L64 455" stroke="#9a9a9a" stroke-width="0.8" fill="none"/><path d="M64.3 455 h4.6 v-3 l5.7 4.6 l-5.7 4.6 v-3 h-4.6z" fill="#7ac422" stroke="#3f8c12" stroke-width="0.7"/></g><rect x="30.5" y="809.5" width="12" height="12" fill="#dfe1e7" stroke="#8e919c"/><rect x="32.5" y="811.5" width="8" height="8" fill="#fff" stroke="#d0d2d9" stroke-width="1"/><g transform="translate(0,364)"><rect x="53.5" y="440.5" width="20" height="20" fill="#fff" stroke="#1a7cc8"/><rect x="55" y="442" width="17" height="17" fill="#9bd33c"/><path d="M59 442 L72 455 V459 H67 L56.5 448.5 V442z" fill="#f3dcb4"/><path d="M62 442 H72 V452z" fill="#74c8f6"/><path d="M56.5 442.5 L62 452.5" stroke="#e03020" stroke-width="1.1" stroke-dasharray="1.2 1.4"/><path d="M56 458 L61.5 452.8 L64 455" stroke="#9a9a9a" stroke-width="0.8" fill="none"/><path d="M64.3 455 h4.6 v-3 l5.7 4.6 l-5.7 4.6 v-3 h-4.6z" fill="#7ac422" stroke="#3f8c12" stroke-width="0.7"/></g><rect x="30.5" y="835.5" width="12" height="12" fill="#dfe1e7" stroke="#8e919c"/><rect x="32.5" y="837.5" width="8" height="8" fill="#fff" stroke="#d0d2d9" stroke-width="1"/><g transform="translate(0,390)"><rect x="53.5" y="440.5" width="20" height="20" fill="#fff" stroke="#1a7cc8"/><rect x="55" y="442" width="17" height="17" fill="#9bd33c"/><path d="M59 442 L72 455 V459 H67 L56.5 448.5 V442z" fill="#f3dcb4"/><path d="M62 442 H72 V452z" fill="#74c8f6"/><path d="M56.5 442.5 L62 452.5" stroke="#e03020" stroke-width="1.1" stroke-dasharray="1.2 1.4"/><path d="M56 458 L61.5 452.8 L64 455" stroke="#9a9a9a" stroke-width="0.8" fill="none"/><path d="M64.3 455 h4.6 v-3 l5.7 4.6 l-5.7 4.6 v-3 h-4.6z" fill="#7ac422" stroke="#3f8c12" stroke-width="0.7"/></g><rect x="30.5" y="861.5" width="12" height="12" fill="#dfe1e7" stroke="#8e919c"/><rect x="32.5" y="863.5" width="8" height="8" fill="#fff" stroke="#d0d2d9" stroke-width="1"/><g transform="translate(0,416)"><rect x="53.5" y="440.5" width="20" height="20" fill="#fff" stroke="#1a7cc8"/><rect x="55" y="442" width="17" height="17" fill="#9bd33c"/><path d="M59 442 L72 455 V459 H67 L56.5 448.5 V442z" fill="#f3dcb4"/><path d="M62 442 H72 V452z" fill="#74c8f6"/><path d="M56.5 442.5 L62 452.5" stroke="#e03020" stroke-width="1.1" stroke-dasharray="1.2 1.4"/><path d="M56 458 L61.5 452.8 L64 455" stroke="#9a9a9a" stroke-width="0.8" fill="none"/><path d="M64.3 455 h4.6 v-3 l5.7 4.6 l-5.7 4.6 v-3 h-4.6z" fill="#7ac422" stroke="#3f8c12" stroke-width="0.7"/></g><rect x="24.5" y="699.5" width="23" height="24" fill="none" stroke="#111" stroke-dasharray="1 1" shape-rendering="crispEdges"/><polygon points="13.2,707 18.0,711 13.2,715" fill="#1b1b30"/></svg>
</div>
<svg class="a" style="left:279px;top:413px" width="17" height="460" viewBox="279 413 17 460"><polygon points="283.5,423.7 287.5,418.90000000000003 291.5,423.7" fill="#8d8f99"/><polygon points="283.5,861.9 287.5,866.6999999999999 291.5,861.9" fill="#8d8f99"/><rect x="284.5" y="822.5" width="6" height="17" rx="3" fill="#f3f3f5" stroke="#b9bbc3"/></svg>
<div class="a" style="left:8px;top:873px;width:203px;height:17px;background:#fff;"></div>
<div class="a" style="left:211px;top:873px;width:69px;height:17px;background:#f3f3f6;"></div>
<div class="a" style="left:280px;top:873px;width:16px;height:17px;background:#eaebee;"></div>
<svg class="a" style="left:8px;top:873px" width="288" height="17" viewBox="8 873 288 17"><rect x="12" y="878.1" width="1.4" height="7" fill="#1b1b30"/><polygon points="17.7,878.1 13.5,881.6 17.7,885.1" fill="#1b1b30"/><polygon points="21.700000000000003,878.1 17.5,881.6 21.700000000000003,885.1" fill="#1b1b30"/><polygon points="34.5,878.1 30.299999999999997,881.6 34.5,885.1" fill="#1b1b30"/><polygon points="38.6,878.1 34.4,881.6 38.6,885.1" fill="#1b1b30"/><polygon points="54.1,878.1 49.9,881.6 54.1,885.1" fill="#1b1b30"/><polygon points="166.9,878.1 171.1,881.6 166.9,885.1" fill="#1b1b30"/><polygon points="181.7,878.1 185.89999999999998,881.6 181.7,885.1" fill="#1b1b30"/><polygon points="185.79999999999998,878.1 189.99999999999997,881.6 185.79999999999998,885.1" fill="#1b1b30"/><polygon points="199.0,878.1 203.2,881.6 199.0,885.1" fill="#1b1b30"/><polygon points="203.0,878.1 207.2,881.6 203.0,885.1" fill="#1b1b30"/><rect x="207.2" y="878.1" width="1.4" height="7" fill="#1b1b30"/><polygon points="221.9,877.6 217.1,881.6 221.9,885.6" fill="#c9cad1"/><polygon points="268.40000000000003,877.6 273.2,881.6 268.40000000000003,885.6" fill="#c9cad1"/></svg>
<div class="a nw" style="top:876.39px;font-size:11px;line-height:11px;color:#1b1b30;left:65.3px;">Record 345 of 362</div>
<div class="a" style="left:303px;top:149px;width:1276px;height:446px;background:#ecedf0;border:1px solid #a4a7b3"></div>
<div class="a" style="left:304px;top:150px;width:1274px;height:1px;background:#fbfbfc;"></div>
<div class="a" style="left:304px;top:150px;width:1px;height:444px;background:#fbfbfc;"></div>
<div class="a" style="left:305px;top:151px;width:1273px;height:18px;background:#e3e4e9;"></div>
<div class="a" style="left:303px;top:595px;width:1276px;height:2px;background:#d3d4d9;"></div>
<svg class="a" style="left:1560px;top:155px" width="12" height="10" viewBox="1560 155 12 10"><rect x="1561.5" y="156.5" width="8" height="6" fill="#fdfdfe" stroke="#6d707e" stroke-width="1.8"/></svg>
<svg class="a" style="left:306px;top:172px" width="410" height="18" viewBox="306 172 410 18"><rect x="308.5" y="175.5" width="12" height="12" fill="#e4e6eb" stroke="#8e919c"/><rect x="310.5" y="177.5" width="8" height="8" fill="#fff" stroke="#d3d5dc"/><rect x="419.5" y="175.5" width="12" height="12" fill="#e4e6eb" stroke="#8e919c"/><rect x="421.5" y="177.5" width="8" height="8" fill="#fff" stroke="#d3d5dc"/><rect x="578.0" y="175.5" width="12" height="12" fill="#e4e6eb" stroke="#8e919c"/><rect x="580.0" y="177.5" width="8" height="8" fill="#fff" stroke="#d3d5dc"/><rect x="696.0" y="175.5" width="12" height="12" fill="#e4e6eb" stroke="#8e919c"/><rect x="698.0" y="177.5" width="8" height="8" fill="#fff" stroke="#d3d5dc"/><path d="M697.3 181.4 L700.9 186.6 L708.5 174.2" fill="none" stroke="#1b1b30" stroke-width="1.7"/></svg>
<div class="a nw" style="top:176.89px;font-size:11px;line-height:11px;color:#1b1b30;left:324.7px;letter-spacing:-0.05px">Show only events</div>
<div class="a nw" style="top:176.89px;font-size:11px;line-height:11px;color:#1b1b30;left:435.7px;">Show only ignition activities</div>
<div class="a nw" style="top:176.89px;font-size:11px;line-height:11px;color:#1b1b30;left:593.2px;">Draw route on map</div>
<div class="a nw" style="top:176.89px;font-size:11px;line-height:11px;color:#1b1b30;left:711.2px;letter-spacing:-0.1px">Show map info</div>
<div class="a nw" style="top:176.89px;font-size:11px;line-height:11px;color:#1b1b30;left:789.3px;letter-spacing:-0.1px">Map zoom level</div>
<div class="a" style="left:868px;top:173px;width:47px;height:18px;background:#fff;border:1px solid #b4b7c0"></div>
<div class="a nw" style="top:176.89px;font-size:11px;line-height:11px;color:#1b1b30;left:872.5px;">14</div>
<svg class="a" style="left:900px;top:176px" width="14" height="12" viewBox="900 176 14 12"><polygon points="903.1999999999999,179.64000000000001 906.8,183.96 910.4,179.64000000000001" fill="#1b1b30"/></svg>
<div class="a" style="left:303px;top:597px;width:1276px;height:298px;background:#ecedf0;border:1px solid #a4a7b3"></div>
<div class="a" style="left:304px;top:598px;width:1274px;height:1px;background:#fbfbfc;"></div>
<div class="a" style="left:304px;top:598px;width:1px;height:296px;background:#fbfbfc;"></div>
<div class="a" style="left:305px;top:599px;width:1273px;height:18px;background:#e3e4e9;"></div>
<svg class="a" style="left:1560px;top:604px" width="12" height="10" viewBox="1560 604 12 10"><rect x="1561.5" y="605.5" width="8" height="6" fill="#fdfdfe" stroke="#6d707e" stroke-width="1.8"/></svg>
<div class="a" style="left:387px;top:619px;width:1186px;height:270px;background:#fff;border:1px solid #a4a7b3"></div>
<div class="a" style="left:1573px;top:620px;width:5px;height:274px;background:linear-gradient(90deg,#d9dbe0,#f4f4f6);"></div>
<div class="a" style="left:388px;top:889px;width:1185px;height:4px;background:linear-gradient(#d9dbe0,#f4f4f6);"></div>
<div class="a" style="left:305px;top:622px;width:83px;height:31px;background:#fff;border:1px solid #a4a7b3;border-right:none;border-bottom:none"></div>
<div class="a" style="left:387px;top:623px;width:1px;height:30px;background:#fff;"></div>
<div class="a" style="left:308px;top:653px;width:80px;height:31px;background:linear-gradient(90deg,#dcdde3,#e9eaee);border:1px solid #a4a7b3"></div>
<div class="a" style="left:308px;top:685px;width:80px;height:30px;background:linear-gradient(90deg,#dcdde3,#e9eaee);border:1px solid #a4a7b3"></div>
<div class="a nw" style="top:632.19px;font-size:11px;line-height:11px;color:#1b1b30;left:313px;">Time report</div>
<div class="a nw" style="top:663.39px;font-size:11px;line-height:11px;color:#45476a;left:314.5px;letter-spacing:-0.22px">Speed graphic</div>
<div class="a nw" style="top:694.69px;font-size:11px;line-height:11px;color:#45476a;left:314.5px;">Route report</div>
<div class="a" style="left:395px;top:626px;width:170px;height:255px;background:#fff;"></div>
<div class="a" style="left:395px;top:626px;width:1170px;height:255px;background:#fff;border:1px solid #a4a7b3"></div>
<svg class="a" style="left:396px;top:627px" width="1168" height="253" viewBox="396 627 1168 253"><path d="M525.5 638 V836" stroke="#dcdcdc" stroke-width="1"/><path d="M525.5 836 V841.5" stroke="#a0a0a0" stroke-width="1"/><path d="M570.5 638 V836" stroke="#dcdcdc" stroke-width="1"/><path d="M570.5 836 V841.5" stroke="#a0a0a0" stroke-width="1"/><path d="M615.5 638 V836" stroke="#dcdcdc" stroke-width="1"/><path d="M615.5 836 V841.5" stroke="#a0a0a0" stroke-width="1"/><path d="M659.5 638 V836" stroke="#dcdcdc" stroke-width="1"/><path d="M659.5 836 V841.5" stroke="#a0a0a0" stroke-width="1"/><path d="M704.5 638 V836" stroke="#dcdcdc" stroke-width="1"/><path d="M704.5 836 V841.5" stroke="#a0a0a0" stroke-width="1"/><path d="M749.5 638 V836" stroke="#dcdcdc" stroke-width="1"/><path d="M749.5 836 V841.5" stroke="#a0a0a0" stroke-width="1"/><path d="M793.5 638 V836" stroke="#dcdcdc" stroke-width="1"/><path d="M793.5 836 V841.5" stroke="#a0a0a0" stroke-width="1"/><path d="M838.5 638 V836" stroke="#dcdcdc" stroke-width="1"/><path d="M838.5 836 V841.5" stroke="#a0a0a0" stroke-width="1"/><path d="M882.5 638 V836" stroke="#dcdcdc" stroke-width="1"/><path d="M882.5 836 V841.5" stroke="#a0a0a0" stroke-width="1"/><path d="M927.5 638 V836" stroke="#dcdcdc" stroke-width="1"/><path d="M927.5 836 V841.5" stroke="#a0a0a0" stroke-width="1"/><path d="M972.5 638 V836" stroke="#dcdcdc" stroke-width="1"/><path d="M972.5 836 V841.5" stroke="#a0a0a0" stroke-width="1"/><path d="M1016.5 638 V836" stroke="#dcdcdc" stroke-width="1"/><path d="M1016.5 836 V841.5" stroke="#a0a0a0" stroke-width="1"/><path d="M1061.5 638 V836" stroke="#dcdcdc" stroke-width="1"/><path d="M1061.5 836 V841.5" stroke="#a0a0a0" stroke-width="1"/><path d="M1105.5 638 V836" stroke="#dcdcdc" stroke-width="1"/><path d="M1105.5 836 V841.5" stroke="#a0a0a0" stroke-width="1"/><path d="M1150.5 638 V836" stroke="#dcdcdc" stroke-width="1"/><path d="M1150.5 836 V841.5" stroke="#a0a0a0" stroke-width="1"/><path d="M1195.5 638 V836" stroke="#dcdcdc" stroke-width="1"/><path d="M1195.5 836 V841.5" stroke="#a0a0a0" stroke-width="1"/><path d="M1239.5 638 V836" stroke="#dcdcdc" stroke-width="1"/><path d="M1239.5 836 V841.5" stroke="#a0a0a0" stroke-width="1"/><path d="M1284.5 638 V836" stroke="#dcdcdc" stroke-width="1"/><path d="M1284.5 836 V841.5" stroke="#a0a0a0" stroke-width="1"/><path d="M1329.5 638 V836" stroke="#dcdcdc" stroke-width="1"/><path d="M1329.5 836 V841.5" stroke="#a0a0a0" stroke-width="1"/><rect x="576" y="657" width="1" height="61" fill="#ee0000"/><rect x="577" y="657" width="1" height="61" fill="#007000"/><rect x="578" y="657" width="1" height="61" fill="#ee0000"/><rect x="579" y="657" width="4" height="61" fill="#007000"/><rect x="583" y="657" width="3" height="61" fill="#ee0000"/><rect x="974" y="657" width="2" height="61" fill="#ee0000"/><rect x="976" y="657" width="5" height="61" fill="#007000"/><rect x="981" y="657" width="3" height="61" fill="#ee0000"/><rect x="1110" y="657" width="5" height="61" fill="#ee0000"/><rect x="1115" y="657" width="1" height="61" fill="#007000"/><rect x="1116" y="657" width="2" height="61" fill="#ee0000"/><rect x="1120" y="657" width="2" height="61" fill="#007000"/><rect x="1122" y="657" width="2" height="61" fill="#ee0000"/><rect x="1124" y="657" width="4" height="61" fill="#007000"/><rect x="1128" y="657" width="1" height="61" fill="#ee0000"/><rect x="1133" y="657" width="3" height="61" fill="#ee0000"/><rect x="1136" y="657" width="83" height="61" fill="#007000"/><rect x="1265" y="657" width="1" height="61" fill="#007000"/><rect x="1266" y="657" width="2" height="61" fill="#ee0000"/><rect x="1268" y="657" width="1" height="61" fill="#007000"/><rect x="1272" y="657" width="2" height="61" fill="#ee0000"/><rect x="1274" y="657" width="2" height="61" fill="#007000"/><rect x="1276" y="657" width="2" height="61" fill="#ee0000"/><rect x="585.5" y="756.5" width="388" height="60" fill="#808080" stroke="#686868" stroke-width="1"/><rect x="983.5" y="756.5" width="127" height="60" fill="#808080" stroke="#686868" stroke-width="1"/><rect x="1112.5" y="756.5" width="0.5" height="60" fill="#808080" stroke="#686868" stroke-width="1"/><rect x="1117.5" y="756.5" width="3" height="60" fill="#808080" stroke="#686868" stroke-width="1"/><rect x="1128.5" y="756.5" width="5" height="60" fill="#808080" stroke="#686868" stroke-width="1"/><rect x="1218.5" y="756.5" width="47" height="60" fill="#808080" stroke="#686868" stroke-width="1"/><rect x="1270.5" y="756.5" width="2" height="60" fill="#808080" stroke="#686868" stroke-width="1"/><rect x="1277.5" y="756.5" width="1" height="60" fill="#808080" stroke="#686868" stroke-width="1"/><path d="M506.5 637.5 V836.5 H1347.5 V637.5 H506.5" fill="none" stroke="#a0a0a0"/><path d="M501 687.5 H506 M501 786.5 H506" stroke="#a0a0a0"/><path d="M1269.6 637 V836" stroke="#0000ff" stroke-width="1.3"/></svg>
<div class="a nw" style="left:1271.5px;top:770.5px;font-size:11px;line-height:11px;color:#0000ff;transform:rotate(90deg);transform-origin:0 0;left:1283px">11:39:52 PM</div>
<div class="a nw" style="top:847.29px;font-size:11px;line-height:11px;color:#111;left:485.0px;width:80px;text-align:center;">7:00 AM</div>
<div class="a nw" style="top:862.29px;font-size:11px;line-height:11px;color:#111;left:530.0px;width:80px;text-align:center;">8:00 AM</div>
<div class="a nw" style="top:847.29px;font-size:11px;line-height:11px;color:#111;left:575.0px;width:80px;text-align:center;">9:00 AM</div>
<div class="a nw" style="top:862.29px;font-size:11px;line-height:11px;color:#111;left:619.0px;width:80px;text-align:center;">10:00 AM</div>
<div class="a nw" style="top:847.29px;font-size:11px;line-height:11px;color:#111;left:664.0px;width:80px;text-align:center;">11:00 AM</div>
<div class="a nw" style="top:862.29px;font-size:11px;line-height:11px;color:#111;left:709.0px;width:80px;text-align:center;">12:00 PM</div>
<div class="a nw" style="top:847.29px;font-size:11px;line-height:11px;color:#111;left:753.0px;width:80px;text-align:center;">1:00 PM</div>
<div class="a nw" style="top:862.29px;font-size:11px;line-height:11px;color:#111;left:798.0px;width:80px;text-align:center;">2:00 PM</div>
<div class="a nw" style="top:847.29px;font-size:11px;line-height:11px;color:#111;left:842.0px;width:80px;text-align:center;">3:00 PM</div>
<div class="a nw" style="top:862.29px;font-size:11px;line-height:11px;color:#111;left:887.0px;width:80px;text-align:center;">4:00 PM</div>
<div class="a nw" style="top:847.29px;font-size:11px;line-height:11px;color:#111;left:932.0px;width:80px;text-align:center;">5:00 PM</div>
<div class="a nw" style="top:862.29px;font-size:11px;line-height:11px;color:#111;left:976.0px;width:80px;text-align:center;">6:00 PM</div>
<div class="a nw" style="top:847.29px;font-size:11px;line-height:11px;color:#111;left:1021.0px;width:80px;text-align:center;">7:00 PM</div>
<div class="a nw" style="top:862.29px;font-size:11px;line-height:11px;color:#111;left:1065.0px;width:80px;text-align:center;">8:00 PM</div>
<div class="a nw" style="top:847.29px;font-size:11px;line-height:11px;color:#111;left:1110.0px;width:80px;text-align:center;">9:00 PM</div>
<div class="a nw" style="top:862.29px;font-size:11px;line-height:11px;color:#111;left:1155.0px;width:80px;text-align:center;">10:00 PM</div>
<div class="a nw" style="top:847.29px;font-size:11px;line-height:11px;color:#111;left:1199.0px;width:80px;text-align:center;">11:00 PM</div>
<div class="a nw" style="top:862.29px;font-size:11px;line-height:11px;color:#111;left:1244.0px;width:80px;text-align:center;">12:00 AM</div>
<div class="a nw" style="top:847.29px;font-size:11px;line-height:11px;color:#111;left:1289.0px;width:80px;text-align:center;">1:00 AM</div>
<div class="a nw" style="top:681.49px;font-size:11px;line-height:11px;color:#111;left:93.5px;width:400px;text-align:right;">Journey / Idle time</div>
<div class="a nw" style="top:780.19px;font-size:11px;line-height:11px;color:#111;left:93.5px;width:400px;text-align:right;letter-spacing:-0.2px">Parking time</div>
<div class="a" style="left:1358px;top:637px;width:196px;height:58px;background:#fff;border:1px solid #a4a7b3"></div>
<svg class="a" style="left:1361px;top:640px" width="20" height="52" viewBox="1361 640 20 52"><rect x="1362" y="641" width="18" height="14" fill="#007000"/><rect x="1362" y="659" width="18" height="14" fill="#ee0000"/><rect x="1362" y="677" width="18" height="14" fill="#808080"/></svg>
<div class="a nw" style="top:643.29px;font-size:11px;line-height:11px;color:#111;left:1384.3px;">Journey time: 2 hr 33 min (18%)</div>
<div class="a nw" style="top:661.29px;font-size:11px;line-height:11px;color:#111;left:1384.3px;">Idle time: 16 min 27 sec (1%)</div>
<div class="a nw" style="top:679.29px;font-size:11px;line-height:11px;color:#111;left:1384.3px;">Parking time: 12 hr 51 min (81%)</div>
<div class="a" style="left:2px;top:896px;width:1578px;height:50px;background:#3f3f3f;"></div>
<div class="a" style="left:23px;top:904px;width:156px;height:36px;background:#3f3f3f;border:1px solid #fff"></div>
<div class="a" style="left:26px;top:907px;width:150px;height:30px;background:#80828f;"></div>
<div class="a" style="left:26px;top:907px;width:150px;height:30px;background:#80828f;"></div>
<div class="a nw" style="top:916.69px;font-size:11px;line-height:11px;color:#fff;left:26.0px;width:150px;text-align:center;">Hide Gps Selection</div>
<div class="a" style="left:189px;top:907px;width:150px;height:30px;background:#80828f;"></div>
<div class="a nw" style="top:916.69px;font-size:11px;line-height:11px;color:#fff;left:189.0px;width:150px;text-align:center;">Create Gps Event</div>
<div class="a" style="left:352px;top:907px;width:150px;height:30px;background:#80828f;"></div>
<div class="a nw" style="top:916.69px;font-size:11px;line-height:11px;color:#fff;left:352.0px;width:150px;text-align:center;">Export / Print Route Report</div>
<div class="a" style="left:515px;top:907px;width:150px;height:30px;background:#a9abb4;"></div>
<div class="a nw" style="top:916.69px;font-size:11px;line-height:11px;color:#e6e7ec;left:515.0px;width:150px;text-align:center;">Play Selected X1 Event</div>
<svg class="a" style="left:307px;top:196px" width="1268" height="395" viewBox="307 196 1268 395"><defs><clipPath id="mc"><rect x="307" y="196" width="1268" height="395"/></clipPath></defs><g clip-path="url(#mc)"><rect x="307" y="196" width="1268" height="395" fill="#edece7"/><polygon points="1093,196 1575,196 1575,591 1093,591" fill="#f5f4f0" /><polygon points="442,403 482,413 480,428 470,441 447,431" fill="#efe3da" /><polygon points="764,338 796,338 796,348 814,348 814,368 764,368" fill="#f1e4de" /><path d="M752 341 V381 M752 381 V461 M751 461 V501 M752 516 V556 M752 571 V591 M767 246 V286 M766 286 V366 M766 366 V566 M766 566 V591 M779 246 V446 M779 461 V541 M780 556 V591 M793 246 V446 M792 454 V574 M791 574 V591 M803 246 V366 M804 366 V566 M804 574 V591 M817 246 V326 M816 326 V366 M818 589 V591 M831 246 V306 M830 321 V361 M829 369 V429 M831 579 V591 M841 381 V441 M843 441 V501 M843 501 V541 M842 541 V591 M854 581 V591 M866 246 V366 M865 366 V426 M866 426 V506 M867 506 V546 M867 546 V591 M879 246 V446 M879 446 V486 M880 501 V591 M892 246 V326 M891 326 V526 M892 534 V591 M904 246 V446 M903 446 V526 M904 534 V591 M918 246 V306 M917 362 V482 M917 490 V591 M930 246 V286 M931 286 V366 M930 494 V534 M932 534 V591 M956 246 V286 M955 301 V421 M955 421 V481 M955 481 V521 M955 536 V591 M969 246 V286 M970 406 V466 M968 466 V546 M968 554 V591 M982 246 V446 M982 446 V591 M1008 246 V306 M1008 321 V521 M1008 521 V591 M1021 246 V306 M1022 306 V506 M1021 506 V546 M1020 546 V591 M1035 246 V306 M1034 321 V441 M1035 441 V561 M1047 306 V346 M1048 421 V481 M1046 496 V576 M1046 584 V591 M1060 246 V286 M1061 554 V591 M1074 246 V306 M1073 314 V434 M1073 449 V529 M1073 529 V589 M853 248 H883 M908 247 H988 M1036 247 H1066 M1078 247 H1090 M748 258 H928 M970 259 H1000 M1006 258 H1090 M748 270 H868 M893 269 H1073 M1079 270 H1090 M868 281 H918 M930 280 H1050 M1075 280 H1090 M748 291 H828 M834 291 H914 M1018 291 H1068 M1074 291 H1090 M748 303 H778 M784 302 H834 M920 302 H1040 M1040 302 H1090 M934 313 H1090 M748 325 H798 M859 325 H1039 M1039 325 H1090 M748 335 H778 M790 335 H820 M820 336 H850 M856 335 H976 M748 347 H928 M1045 346 H1090 M748 357 H868 M1000 358 H1030 M1036 357 H1066 M1078 357 H1090 M748 368 H868 M868 368 H918 M930 368 H1050 M748 379 H778 M803 379 H883 M883 380 H1063 M1075 380 H1090 M748 390 H778 M803 390 H923 M923 390 H1043 M1055 390 H1090 M778 401 H858 M858 402 H908 M920 401 H1000 M1025 401 H1090 M748 412 H778 M790 412 H840 M865 412 H1045 M748 424 H928 M983 423 H1090 M748 435 H868 M874 434 H924 M936 435 H1016 M1028 434 H1090 M748 445 H928 M934 446 H984 M1009 445 H1090 M748 456 H868 M874 457 H904 M904 456 H984 M990 456 H1020 M1045 456 H1090 M748 467 H828 M853 467 H933 M939 467 H1090 M853 478 H973 M985 478 H1015 M1040 478 H1090 M953 489 H1003 M1009 490 H1059 M1059 489 H1090 M748 500 H798 M810 501 H860 M885 500 H915 M921 501 H1041 M1041 500 H1071 M1083 500 H1090 M748 511 H928 M928 511 H1048 M1048 512 H1078 M748 523 H778 M803 522 H883 M895 522 H1015 M1021 523 H1051 M1051 522 H1090 M748 533 H798 M810 534 H890 M915 533 H1090 M868 544 H1048 M1048 545 H1090 M748 555 H868 M874 556 H994 M1042 556 H1090 M748 567 H778 M908 566 H958 M970 566 H1000 M1006 566 H1090 M748 577 H778 M784 577 H864 M870 577 H950 M950 578 H1070 M748 588 H778 M778 589 H808 M808 588 H988 M1000 589 H1090 M668 269 V308 M682 249 V300 M696 263 V324 M710 259 V329 M724 265 V320 M738 270 V330 M662 405 H740 M686 417 H733 M663 429 H725 M682 441 H726 M690 453 H728 M685 465 H732 M689 477 H727 M686 489 H725 M664 501 H725 M665 513 H740 M685 525 H731 M686 537 H736 M679 549 H733 M670 561 H730 M674 573 H729 M685 585 H721 M670 412 V535 M686 416 V520 M702 415 V501 M718 423 V478 M734 430 V474 M517.1266588391043 421.06198308820285 Q526.0 421.5 540.4 431.9 Q551.5 427.9 562.6 418.9 Q569.6 410.0 582.9 403.1 M576.732287729106 467.6791027529239 Q576.8 475.8 582.5 489.9 Q590.2 493.8 599.4 505.3 M411.2667242879312 326.2874755136699 Q404.2 318.9 397.0 317.9 Q396.3 315.9 392.0 302.1 Q383.8 303.4 376.2 297.0 M671.4392365721446 554.175199378993 Q683.9 562.7 694.0 563.3 Q700.3 559.2 716.8 554.9 M386.4363710814637 442.09518740759313 Q378.8 435.3 378.0 431.6 Q367.7 428.5 364.5 431.2 M567.752048781948 459.59141559171564 Q568.7 449.6 572.7 436.7 Q558.6 428.5 555.9 420.4 Q546.0 416.2 538.4 404.8 M595.5313674104152 280.63877992410585 Q597.5 292.5 587.7 300.3 Q580.4 313.6 583.9 321.1 M689.9887962161611 374.06880967259656 Q697.7 372.7 712.6 365.8 Q712.6 360.1 724.3 344.7 M492.21456601338 520.3326892299629 Q477.9 516.9 472.5 524.2 Q471.2 531.7 462.6 541.7 Q461.3 552.3 449.8 557.2 Q448.9 563.1 451.7 577.2 Q454.3 582.1 467.2 589.9 M634.0290017133195 510.1721244161977 Q634.7 501.0 625.6 496.3 Q624.9 483.6 620.9 480.8 Q624.9 477.6 624.4 465.0 M585.3395036451891 533.371516465746 Q590.2 537.3 593.4 552.3 Q583.1 558.8 581.0 568.7 Q588.6 582.6 584.9 589.0 Q597.8 599.2 601.5 601.3 Q608.6 608.1 611.7 619.2 M477.6297022982947 389.064058944722 Q478.8 397.7 482.6 409.6 Q481.1 413.9 487.4 430.1 Q478.4 435.7 470.3 442.6 Q464.3 450.2 450.5 449.8 M658.5276225468822 369.12324457278385 Q656.8 376.1 656.4 382.8 Q663.7 381.8 667.6 390.8 M625.3964966900804 504.94899108515415 Q624.7 502.3 613.1 508.4 Q613.7 507.6 602.5 501.3 M660.445462816379 294.73462914960305 Q669.8 293.7 674.6 287.3 Q681.9 281.3 681.2 272.7 Q677.7 266.1 678.4 256.9 Q683.6 248.3 689.8 245.7 Q697.2 249.4 705.0 251.0 M574.8224832682536 310.46370413055945 Q586.0 314.7 586.7 314.5 Q584.5 323.9 590.3 326.5 Q596.5 330.3 602.0 330.9 Q612.7 331.7 614.5 331.1 M559.4187850218516 542.7125767066805 Q558.6 534.3 552.1 529.0 Q545.0 519.3 541.0 518.1 M452.2564060151193 254.29879217759805 Q449.6 248.2 439.2 248.1 Q439.8 244.0 428.9 237.9 Q423.8 225.3 423.2 224.6 M324.53105580288263 278.7713124211861 Q327.6 288.4 331.0 295.4 Q334.5 297.2 348.7 297.4 Q357.3 294.6 365.4 291.1 Q370.6 281.9 380.5 281.5 Q390.0 270.4 391.7 267.6 M316.068170761571 513.5409984565658 Q326.3 506.8 332.5 505.5 Q346.9 502.9 350.1 510.8 Q359.2 520.0 358.9 526.9 M558.7431743056649 441.6773278815788 Q558.1 432.9 556.7 426.3 Q546.0 424.1 546.0 415.1 Q539.4 423.2 531.5 420.6 Q525.3 429.2 526.2 435.2 Q525.1 446.1 520.7 449.6 M385.0949741057134 336.3776968639805 Q394.0 341.8 403.3 346.3 Q412.8 353.3 423.7 350.4 Q432.7 339.0 438.0 335.4 Q444.8 341.0 457.3 343.1 M707.8266218222452 564.4262253069878 Q704.6 578.6 702.8 585.8 Q696.9 598.1 696.7 606.9 Q682.5 613.3 675.0 610.6 Q669.6 618.1 669.9 632.0 M629.867825561716 565.0912423231234 Q621.8 572.6 616.7 571.6 Q616.2 571.8 604.2 563.8 Q598.0 559.8 592.4 555.1 Q580.5 564.3 579.9 562.6 M649.35702928264 365.9626998316045 Q654.6 367.0 669.3 365.1 Q681.5 360.0 682.3 350.1 M323.274041622201 274.82478893805353 Q314.5 268.5 303.6 265.5 Q303.6 260.0 295.8 245.2 M703.1957747476993 564.9572880430769 Q716.2 571.1 718.5 567.4 Q719.1 575.7 729.6 578.1 M581.8714654711409 396.76152285900525 Q575.6 390.6 573.6 386.2 Q564.2 385.2 560.7 389.5 Q552.6 385.5 547.8 385.8 M724.5196437751024 406.34543486974985 Q734.1 409.5 745.2 406.0 Q757.2 402.7 764.3 398.3 Q773.7 384.4 774.4 380.3 Q780.3 371.3 794.2 374.3 M396.8751224427216 499.3851669891673 Q394.4 496.1 384.9 500.3 Q377.0 504.9 372.8 501.5 M432.00379379506114 302.2971625460991 Q432.0 313.8 442.0 318.4 Q446.2 329.4 443.5 337.4 Q446.2 344.7 451.3 354.6 M692.8751996937726 256.0222455260664 Q692.0 260.6 690.1 273.0 Q683.4 280.5 673.5 277.3 M364.55862491253146 438.8718038172367 Q371.5 448.8 370.3 454.7 Q364.4 462.2 366.4 471.2 M642.5771294579025 433.50111606097823 Q641.0 422.5 639.2 417.2 Q646.4 410.9 645.8 401.9 Q658.2 399.6 659.3 392.1 M569.244892929024 350.50755007514925 Q566.3 351.8 557.8 362.6 Q545.1 358.7 542.0 357.7 Q544.6 352.3 540.1 341.2 M497.0168911497506 295.62873541817413 Q496.7 294.1 508.0 284.1 Q509.2 283.3 517.1 271.0 M437.3717072547233 232.96222635397692 Q432.0 232.3 416.9 233.4 Q409.8 230.9 396.7 230.2 Q390.4 239.7 378.7 240.0 Q371.0 242.5 358.5 236.7 M602.2265045944387 455.9539759510575 Q602.3 460.6 592.9 471.4 Q592.8 475.9 587.5 488.7 Q579.1 486.6 571.1 496.2 Q563.1 494.3 554.7 488.6 Q557.3 477.8 550.3 471.1 M700.5225444517017 263.29680572250777 Q704.7 273.3 698.3 282.8 Q706.5 289.8 712.9 295.8 Q716.1 306.8 719.1 314.4 Q714.9 322.1 710.2 331.9 M717.6282272224958 300.6321894861763 Q717.0 293.0 704.7 288.8 Q693.7 290.4 688.1 294.4 Q686.5 302.1 686.7 311.8 M610.2486696854246 351.76500029014863 Q615.0 364.2 608.9 365.2 Q608.0 366.7 596.0 369.1 Q598.0 369.9 589.8 381.1 Q579.8 385.3 577.2 386.1 M619.9030396876806 518.2701559885675 Q624.2 509.4 621.0 501.4 Q618.0 489.2 613.9 486.0 Q615.3 482.3 620.1 470.2 M424.99252828066153 360.4134589991163 Q422.6 352.7 412.8 337.7 Q405.1 326.9 393.7 320.4 Q385.3 307.2 374.0 303.8 Q370.9 288.6 376.1 278.2 M475.5975973944145 255.7007758173641 Q476.0 261.3 473.2 278.5 Q488.6 286.0 493.3 289.7 Q499.9 284.3 516.2 287.5 Q528.0 277.9 533.2 272.1 M650.4199703771199 285.44859483409533 Q665.2 282.1 671.8 285.9 Q681.6 293.8 690.7 295.9 M498.59205118289776 542.7656904020386 Q505.0 541.9 511.5 551.7 Q514.0 555.5 525.1 559.6 M524.2155335902053 419.2353753436847 Q518.5 421.2 512.9 427.9 Q506.8 438.7 502.4 437.5 M600.6569712789387 289.9868308703209 Q612.3 299.6 619.6 298.9 Q635.8 299.4 640.4 299.7 Q655.7 294.1 661.3 299.7 Q671.9 302.9 679.5 310.1 M680.526705185921 356.81699933761433 Q675.2 343.8 675.0 334.6 Q661.1 324.4 658.0 319.3 Q647.3 313.0 636.8 310.7 Q640.9 297.4 636.2 287.8 Q628.4 274.7 620.8 270.8 M392.69276511930235 481.7451648989247 Q386.7 474.3 391.8 461.6 Q400.2 449.7 407.4 448.7 Q405.4 435.7 415.3 430.1 M706.2154393961491 444.12682261879894 Q718.6 442.2 728.2 437.3 Q740.7 441.4 750.9 441.2 M401.3755985869012 465.1207833595043 Q406.7 474.5 403.2 485.8 Q417.3 485.2 421.1 496.2 Q418.3 504.2 424.2 516.7 Q425.0 522.7 417.1 536.2 Q418.5 544.5 431.5 551.2 M558.6599328485069 553.9797432695509 Q570.2 548.7 574.3 541.6 Q583.1 539.1 593.1 548.2 Q604.2 554.1 613.0 549.6 Q616.2 557.9 619.9 568.3 Q631.3 567.4 639.1 573.5 M375.25861724886926 230.5908217558259 Q383.3 222.4 382.7 221.0 Q380.9 212.4 379.7 209.2 M554.6655852658769 387.2796045547774 Q544.9 386.1 530.5 393.5 Q516.4 389.6 507.3 384.4 Q497.7 384.6 484.1 375.5 M702.8140904356213 243.95791156735746 Q712.1 241.6 713.7 249.3 Q722.6 245.3 725.9 249.3 M680.2160477564748 400.07825001494103 Q687.9 397.9 696.2 403.7 Q693.5 417.1 700.0 419.7 M380.5310536978684 513.6654936557062 Q392.3 512.1 397.3 508.9 Q398.2 508.5 409.7 496.7 Q422.0 492.2 426.4 491.8 Q440.8 495.4 443.8 491.2 Q450.0 492.1 460.8 494.8 M691.8933321224729 360.6036670464905 Q699.5 355.5 712.2 362.3 Q720.3 358.6 730.3 352.7 Q744.8 350.0 750.0 358.2 Q758.6 371.6 759.8 376.2 Q760.3 390.0 766.3 395.5 M657.0241447208425 471.46996676725337 Q667.2 473.1 670.3 481.8 Q678.0 486.7 675.4 497.9 Q678.0 505.9 676.3 514.7 Q679.1 523.9 687.8 527.0 Q687.8 530.5 688.7 543.9 M656.8272288344442 502.97985898366005 Q652.9 504.6 641.0 510.6 Q629.4 510.8 625.0 517.9 Q627.3 524.1 622.2 535.3 M558.4823894702288 354.20059848499943 Q569.6 348.9 572.0 346.7 Q573.4 340.2 584.8 338.1 Q581.0 331.7 582.5 322.8 M350.45644778340306 298.67176023532204 Q340.6 300.9 336.1 312.9 Q331.0 322.1 323.6 328.8 Q330.0 336.7 328.1 348.5 Q318.3 348.6 311.4 360.0 Q311.4 372.5 314.5 380.0 M519.3392529137296 529.418020006799 Q525.6 513.1 526.9 506.6 Q522.3 489.7 524.1 482.6 M705.9809383599478 407.34036521257894 Q707.1 411.8 696.4 422.9 Q698.3 428.9 706.1 438.4 Q707.3 450.9 698.8 455.2 M330.22817180230015 508.0943660795714 Q335.8 516.6 330.9 520.9 Q335.2 529.5 337.4 531.9 Q341.6 529.5 350.1 533.0 Q354.3 524.4 358.9 523.8 Q355.4 519.6 360.6 511.1 M315.424045780273 483.20161676802684 Q307.9 496.0 310.5 505.9 Q314.5 520.7 312.6 528.9 Q307.9 533.8 293.0 541.3 M319.3465379640414 252.05545159310236 Q324.8 254.3 333.5 260.6 Q333.3 267.5 340.8 275.4 Q336.2 278.6 333.2 290.1 Q327.9 292.4 328.6 306.0 M555.5258516297656 331.75837844925513 Q561.9 331.9 568.6 340.3 Q576.6 348.3 581.4 349.4 Q581.6 361.2 580.4 365.0 M361.25131637492063 496.74630636411797 Q362.9 503.1 370.8 512.1 Q372.9 522.6 383.2 525.2 Q375.5 535.2 376.3 541.9 Q374.2 550.7 371.8 559.4 M500.4935417385914 509.24337967938266 Q491.0 506.1 488.3 501.2 Q477.4 506.6 474.3 505.4 Q463.5 498.7 460.0 502.2 Q456.1 507.2 449.6 512.4 M427.7720325096452 299.1714883546136 Q440.4 300.3 447.4 303.7 Q449.4 314.4 462.0 317.6 Q475.5 325.6 480.9 324.8 M521.9973564061663 230.56024989058105 Q516.5 233.5 509.4 224.7 Q506.4 230.0 498.6 233.4 Q490.1 237.4 485.0 230.9 Q478.0 222.5 481.4 217.6 Q480.0 218.1 470.7 208.7 M645.0234725014133 537.5129227139062 Q647.1 539.4 650.4 552.7 Q642.9 557.0 644.3 567.5 M348.0920651271236 447.8684704427553 Q337.8 447.9 338.8 457.6 Q328.8 454.0 326.1 461.9 Q320.3 462.8 312.7 463.2 M612.1374972239978 262.03124647030165 Q621.0 255.6 630.1 249.2 Q630.0 238.0 639.1 229.1 M368.8904917455241 438.0523499986226 Q361.3 435.9 361.9 425.9 Q364.1 418.8 368.9 413.7 Q376.1 410.9 382.6 410.5 M714.7555325355029 504.6865681616343 Q726.6 501.2 730.2 496.2 Q735.0 500.5 744.1 507.1 Q748.0 509.3 756.2 519.9 Q757.2 532.7 761.8 536.6 M595.1409074817346 229.15961631533136 Q604.6 226.0 613.8 234.4 Q627.5 232.3 630.0 223.6 M712.8819233559404 452.95614582921763 Q709.1 448.2 701.1 449.0 Q700.5 447.8 689.7 443.8 M417.7498896593662 412.30980012506393 Q421.9 403.5 429.6 402.7 Q433.9 400.2 427.1 387.6 Q427.6 383.3 438.1 376.9 Q444.8 379.0 452.9 380.9 Q460.7 388.9 458.6 395.1 M427.8681644399635 489.9351044865325 Q421.9 477.4 412.3 472.0 Q409.4 460.9 407.4 448.7 Q407.8 434.6 408.9 425.0 Q399.3 415.1 396.3 404.8 M474.763818062324 435.8459948206214 Q466.3 444.5 462.1 457.3 Q466.9 466.4 462.6 482.3 M334.47024235140753 232.84288687321543 Q326.1 242.4 317.3 244.0 Q314.3 252.5 305.0 260.4 M735.4018854536193 468.9573349498911 Q723.1 468.6 717.9 465.6 Q713.6 463.7 701.1 471.6 Q698.4 473.2 685.5 462.9 M425.53353933636225 452.04038780241257 Q434.2 451.2 441.7 459.5 Q456.3 457.0 459.1 462.8 Q461.1 471.9 468.3 478.1 M607.8366651899967 328.7026889644703 Q599.6 330.8 594.2 337.2 Q590.4 336.1 578.2 335.0 Q566.4 332.7 562.1 335.1 Q557.7 342.1 551.5 347.2 M670.4057479228134 570.1547598637254 Q676.5 572.3 693.9 580.3 Q694.2 593.3 699.3 605.4 Q708.6 614.7 715.1 625.5 M665.0407784612792 486.7615297934565 Q656.4 497.5 651.3 497.6 Q643.2 494.9 634.4 501.8 Q625.8 507.1 619.5 510.8 Q615.9 519.6 603.2 517.1 Q594.4 522.0 587.1 523.9 M738.3334529592332 348.58068472868297 Q735.1 348.7 723.9 348.5 Q724.4 356.6 715.3 360.1 M662.8384998606023 581.4894752442608 Q652.9 578.0 650.0 565.1 Q636.8 559.1 634.1 551.7 Q624.8 555.8 613.8 556.8 Q606.2 547.9 593.9 550.8 Q590.0 559.7 581.0 567.2 M704.3238040873136 368.12379645687986 Q694.7 365.5 685.2 361.7 Q677.1 364.4 665.5 366.4 M738.757189078618 431.8083792289867 Q744.8 434.5 750.5 448.5 Q766.1 447.8 770.9 447.3 Q780.2 449.5 791.1 444.5 Q803.3 447.7 811.1 449.0 Q816.2 440.2 827.5 436.9 M324.14287041606246 451.3313683554833 Q311.8 460.7 310.1 460.7 Q307.8 463.2 294.5 467.2 M576.6765596156254 314.75859642210463 Q563.8 320.8 562.8 318.1 Q555.2 317.6 549.5 322.9 M691.3383089235969 577.6349274955397 Q680.4 576.6 676.2 580.2 Q670.2 578.6 664.7 569.9 M414.6581141472625 287.44833336154187 Q418.3 292.9 424.5 301.7 Q436.3 304.4 439.1 311.0 Q449.8 317.0 449.4 324.9 Q447.0 331.7 443.4 341.1 M510.8159567560431 349.01245747046835 Q501.7 347.7 500.9 341.5 Q492.2 347.5 489.0 345.5 Q486.2 355.4 484.8 357.2 Q475.2 358.4 473.8 363.1 Q466.0 368.3 461.3 362.5 M527.0767801099387 306.81827775404133 Q535.5 314.0 541.6 322.6 Q537.5 331.2 532.6 342.1 Q523.3 354.7 523.1 361.3 Q509.9 372.4 506.5 374.9 Q499.0 370.6 485.2 377.5 M618.8378196515353 277.22513431224246 Q631.5 273.0 635.8 273.2 Q639.7 275.3 653.1 275.9 M465.43736909499427 405.13159925522854 Q456.1 406.2 451.8 399.6 Q442.8 402.7 437.2 397.6 Q431.4 398.7 422.6 396.8 Q423.4 387.0 413.7 385.0 M467.63018796025654 512.7807944931074 Q477.0 526.2 487.2 527.6 Q503.4 527.7 509.7 537.4 Q519.2 537.6 534.2 535.1 Q545.2 525.5 551.9 518.1 M571.6677530830027 380.05308293783344 Q573.6 378.3 572.4 365.9 Q570.6 358.9 575.3 352.0 Q582.2 347.2 578.8 338.3 Q587.1 327.2 584.8 325.4 M638.3925791374112 460.9509532383132 Q637.6 452.9 625.4 440.5 Q611.1 445.1 601.2 443.1 M489.4116137080724 492.8158809371946 Q488.0 505.9 488.4 508.7 Q487.2 519.6 480.4 522.5 Q473.9 522.5 468.6 533.2 M610.2497286242742 379.20614184680255 Q608.1 387.1 598.1 393.6 Q594.7 406.4 599.5 412.4 Q602.8 425.1 611.8 426.7 M382.26195546884156 350.00244787476714 Q388.3 358.6 389.3 363.1 Q392.8 366.5 402.6 369.5 M501.3633377643966 561.9036635065634 Q504.9 569.4 506.4 583.1 Q501.0 593.0 504.8 604.8 Q497.0 605.2 485.0 614.0 Q480.9 605.7 468.6 599.7 M398.71991462428605 473.4470029485408 Q404.4 471.8 415.3 477.5 Q421.0 478.5 428.0 488.8" fill="none" stroke="#d9d9da" stroke-width="1.8" stroke-linecap="round"/><polygon points="748,196 827,196 815,236 760,236 748,233" fill="#c9ddb4" /><polygon points="918,196 929,196 930,221 918,222" fill="#c9ddb4" /><polygon points="307,445 332,456 359,463 387,471 403,482 406,498 388,509 397,522 401,538 399,558 383,554 370,536 341,525 307,516" fill="#c9ddb4" /><polygon points="540,415 651,414 660,430 673,455 668,470 662,488 640,488 636,466 612,464 609,488 540,488" fill="#c9ddb4" /><path d="M652 422 Q645 440 641 455 Q636 470 640 488" fill="none" stroke="#d9d9da" stroke-width="1.8" stroke-linejoin="round" stroke-linecap="round" /><polygon points="515,527 583,529 604,537 604,547 571,557 558,582 540,572 533,545" fill="#c9ddb4" /><polygon points="718,431 748,431 742,446 735,458 718,458" fill="#c9ddb4" /><polygon points="1027,529 1085,496 1090,512 1080,542 1029,557" fill="#c9ddb4" /><polygon points="307,526 323,529 350,536 368,547 381,558 396,563 417,569 436,580 454,591 307,591" fill="#a9c6f0" /><polygon points="1113,210 1154,222 1155,196 1575,196 1575,591 1180,591 1171,553 1161,513 1153,493 1144,478 1124,436 1109,407 1104,380 1105,334 1111,325 1124,295 1139,267 1147,247 1108,221" fill="#a9c6f0" /><polygon points="1101,459 1151,492 1158,511 1113,476 1102,466" fill="#a9c6f0" /><polygon points="1040,565 1087,552 1098,591 1040,591" fill="#a9c6f0" /><polygon points="1129,540 1142,536 1158,591 1133,591" fill="#a9c6f0" /><polygon points="1232,196 1425,196 1391,263 1396,277 1419,274 1414,284 1401,313 1423,380 1492,360 1504,392 1459,410 1461,414 1370,440 1313,465 1306,459 1288,465 1265,468 1279,447 1279,420 1262,416 1258,407 1262,404 1262,393 1247,364 1195,389 1208,400 1227,432 1224,438 1222,474 1190,477 1196,396 1185,396 1181,442 1176,444 1171,433 1165,420 1151,384 1149,380 1148,336 1152,325 1165,295 1183,258 1202,226" fill="#f5f4f0" /><polygon points="1150,300 1170,280 1250,300 1262,393 1247,364 1195,389 1185,396 1181,442 1176,444 1151,384 1149,336" fill="#efeeea" /><polygon points="1435,196 1499,196 1534,291 1575,299 1575,322 1514,305 1544,395 1575,484 1575,522 1421,571 1410,591 1313,591 1315,564 1338,494 1540,429 1469,220 1443,206" fill="#f5f4f0" /><polygon points="1199,499 1236,486 1264,591 1226,591" fill="#efeeea" /><path d="M1193 487 L1235 483" fill="none" stroke="#f5f4f0" stroke-width="4" stroke-linejoin="round" stroke-linecap="round" /><path d="M1272 474 L1306 463" fill="none" stroke="#f5f4f0" stroke-width="3.5" stroke-linejoin="round" stroke-linecap="round" /><polygon points="1093,380 1104,380 1109,407 1124,436 1144,478 1151,492 1101,459 1093,459" fill="#efeeea" /><path d="M1116 212 Q1150 232 1158 240 L1152 300 Q1140 350 1143 400 L1165 470 L1190 591" fill="none" stroke="#6e8fc8" stroke-width="1" stroke-linejoin="round" stroke-linecap="round" stroke-dasharray="1.2 2.4"/><path d="M1112 216 Q1146 236 1153 244 L1146 300 Q1134 350 1137 400 L1158 470 L1183 591" fill="none" stroke="#6e8fc8" stroke-width="1" stroke-linejoin="round" stroke-linecap="round" stroke-dasharray="1.2 2.4"/><clipPath id="pc1"><polygon points="1160,300 1185,250 1205,225 1245,215 1262,290 1250,330 1240,350 1175,385 1150,385 1149,336"/></clipPath><path clip-path="url(#pc1)" d="M807.1 456.0 L1492.9 44.0 M810.8 462.2 L1496.6 50.2 M814.5 468.4 L1500.3 56.3 M818.3 474.5 L1504.0 62.5 M822.0 480.7 L1507.7 68.7 M825.7 486.9 L1511.4 74.8 M829.4 493.0 L1515.1 81.0 M833.1 499.2 L1518.8 87.2 M836.8 505.4 L1522.5 93.4 M840.5 511.6 L1526.2 99.5 M844.2 517.7 L1529.9 105.7 M847.9 523.9 L1533.7 111.9 M851.6 530.1 L1537.4 118.0 M855.3 536.2 L1541.1 124.2 M859.0 542.4 L1544.8 130.4 M862.8 548.6 L1548.5 136.6 M866.5 554.8 L1552.2 142.7 M870.2 560.9 L1555.9 148.9 M873.9 567.1 L1559.6 155.1 M877.6 573.3 L1563.3 161.2 M881.3 579.4 L1567.0 167.4 M885.0 585.6 L1570.7 173.6 M888.7 591.8 L1574.4 179.8 M892.4 598.0 L1578.2 185.9 M896.1 604.1 L1581.9 192.1 M899.8 610.3 L1585.6 198.3" fill="none" stroke="#d8d8da" stroke-width="1.6"/><clipPath id="pc2"><polygon points="1160,300 1185,250 1205,225 1245,215 1262,290 1250,330 1240,350 1175,385 1150,385 1149,336"/></clipPath><path clip-path="url(#pc2)" d="M944.0 -92.9 L1356.0 592.9 M959.4 -102.1 L1371.4 583.6 M974.8 -111.4 L1386.9 574.3 M990.3 -120.7 L1402.3 565.1 M1005.7 -129.9 L1417.7 555.8 M1021.1 -139.2 L1433.2 546.5 M1036.6 -148.5 L1448.6 537.2 M1052.0 -157.8 L1464.0 528.0 M1067.4 -167.0 L1479.4 518.7 M1082.8 -176.3 L1494.9 509.4 M1098.3 -185.6 L1510.3 500.2 M1113.7 -194.8 L1525.7 490.9" fill="none" stroke="#d8d8da" stroke-width="1.6"/><clipPath id="pc3"><polygon points="1150,385 1240,350 1262,393 1247,364 1195,389 1185,396 1181,442 1151,384"/></clipPath><path clip-path="url(#pc3)" d="M807.1 586.0 L1492.9 174.0 M812.8 595.4 L1498.5 183.4 M818.5 604.9 L1504.2 192.8 M824.1 614.3 L1509.9 202.3 M829.8 623.7 L1515.5 211.7 M835.5 633.2 L1521.2 221.1 M841.1 642.6 L1526.9 230.6 M846.8 652.0 L1532.5 240.0 M852.5 661.4 L1538.2 249.4 M858.1 670.9 L1543.9 258.8" fill="none" stroke="#d8d8da" stroke-width="1.6"/><clipPath id="pc4"><polygon points="1250,240 1330,215 1345,300 1300,330 1262,330"/></clipPath><path clip-path="url(#pc4)" d="M895.5 467.3 L1614.5 116.7 M901.6 479.9 L1620.7 129.2 M907.8 492.5 L1626.8 141.8 M913.9 505.1 L1632.9 154.4 M920.0 517.7 L1639.1 167.0 M926.2 530.3 L1645.2 179.6" fill="none" stroke="#d8d8da" stroke-width="1.6"/><clipPath id="pc5"><polygon points="1282,320 1330,300 1350,345 1300,362"/></clipPath><path clip-path="url(#pc5)" d="M954.5 132.1 L1625.5 567.9 M957.5 127.5 L1628.5 563.2 M960.5 122.9 L1631.5 558.6 M963.5 118.3 L1634.5 554.0 M966.5 113.7 L1637.5 549.4 M969.5 109.1 L1640.4 544.8 M972.5 104.5 L1643.4 540.2 M975.5 99.9 L1646.4 535.6 M978.5 95.2 L1649.4 531.0 M981.5 90.6 L1652.4 526.3 M984.5 86.0 L1655.4 521.7 M987.5 81.4 L1658.4 517.1" fill="none" stroke="#d8d8da" stroke-width="1.6"/><clipPath id="pc6"><polygon points="1325,395 1400,330 1423,380 1440,376 1452,400 1459,410 1461,414 1370,440 1315,463 1310,430"/></clipPath><path clip-path="url(#pc6)" d="M944.1 516.8 L1695.9 243.2 M946.7 523.9 L1698.4 250.2 M949.3 530.9 L1701.0 257.3 M951.8 538.0 L1703.6 264.3 M954.4 545.0 L1706.1 271.4 M956.9 552.0 L1708.7 278.4 M959.5 559.1 L1711.3 285.5 M962.1 566.1 L1713.8 292.5 M964.6 573.2 L1716.4 299.6 M967.2 580.2 L1719.0 306.6 M969.8 587.3 L1721.5 313.7 M972.3 594.3 L1724.1 320.7" fill="none" stroke="#d8d8da" stroke-width="1.6"/><clipPath id="pc7"><polygon points="1325,395 1400,330 1423,380 1440,376 1452,400 1459,410 1461,414 1370,440 1315,463 1310,430"/></clipPath><path clip-path="url(#pc7)" d="M1193.2 24.1 L1466.8 775.9 M1210.1 18.0 L1483.7 769.7 M1227.0 11.8 L1500.6 763.6 M1243.9 5.7 L1517.6 757.4 M1260.8 -0.5 L1534.5 751.3 M1277.8 -6.7 L1551.4 745.1 M1294.7 -12.8 L1568.3 738.9 M1311.6 -19.0 L1585.2 732.8 M1328.5 -25.1 L1602.1 726.6 M1345.4 -31.3 L1619.0 720.5" fill="none" stroke="#d8d8da" stroke-width="1.6"/><clipPath id="pc8"><polygon points="1345,498 1540,434 1560,480 1567,515 1421,566 1408,591 1318,591 1322,560"/></clipPath><path clip-path="url(#pc8)" d="M950.7 621.9 L1709.3 368.1 M953.2 629.5 L1711.9 375.7 M955.7 637.1 L1714.4 383.3 M958.3 644.7 L1716.9 390.8 M960.8 652.3 L1719.5 398.4 M963.4 659.9 L1722.0 406.0 M965.9 667.4 L1724.6 413.6 M968.4 675.0 L1727.1 421.2 M971.0 682.6 L1729.6 428.8 M973.5 690.2 L1732.2 436.4 M976.1 697.8 L1734.7 443.9 M978.6 705.4 L1737.3 451.5 M981.1 713.0 L1739.8 459.1" fill="none" stroke="#d8d8da" stroke-width="1.6"/><clipPath id="pc9"><polygon points="1345,498 1540,434 1560,480 1567,515 1421,566 1408,591 1318,591 1322,560"/></clipPath><path clip-path="url(#pc9)" d="M1213.1 120.7 L1466.9 879.3 M1232.0 114.3 L1485.9 873.0 M1251.0 108.0 L1504.9 866.6 M1270.0 101.6 L1523.8 860.3 M1288.9 95.3 L1542.8 853.9 M1307.9 88.9 L1561.8 847.6 M1326.9 82.6 L1580.7 841.3 M1345.8 76.2 L1599.7 834.9 M1364.8 69.9 L1618.7 828.6 M1383.8 63.6 L1637.6 822.2 M1402.7 57.2 L1656.6 815.9" fill="none" stroke="#d8d8da" stroke-width="1.6"/><clipPath id="pc10"><polygon points="1199,499 1236,486 1264,591 1226,591"/></clipPath><path clip-path="url(#pc10)" d="M1218 500 L1240 591 M1246 560 L1256 572" fill="none" stroke="#d8d8da" stroke-width="1.6"/><clipPath id="pc11"><polygon points="562,492 700,490 718,530 712,560 690,566 600,537 560,522"/></clipPath><path clip-path="url(#pc11)" d="M224.1 343.2 L975.9 616.8 M220.7 352.6 L972.5 626.2 M217.3 362.0 L969.0 635.6 M213.9 371.4 L965.6 645.0 M210.4 380.8 L962.2 654.4 M207.0 390.2 L958.8 663.8 M203.6 399.6 L955.4 673.2 M200.2 409.0 L951.9 682.6 M196.8 418.4 L948.5 692.0" fill="none" stroke="#d9d9da" stroke-width="1.8"/><clipPath id="pc12"><polygon points="562,492 700,490 718,530 712,560 690,566 600,537 560,522"/></clipPath><path clip-path="url(#pc12)" d="M736.8 144.1 L463.2 895.9 M757.5 151.6 L483.9 903.4 M778.2 159.2 L504.5 910.9 M798.8 166.7 L525.2 918.5 M819.5 174.2 L545.9 926.0 M840.2 181.7 L566.6 933.5" fill="none" stroke="#d9d9da" stroke-width="1.8"/><clipPath id="pc13"><polygon points="600,545 690,575 695,591 600,591"/></clipPath><path clip-path="url(#pc13)" d="M473.2 194.1 L746.8 945.9 M483.5 190.4 L757.1 942.1 M493.9 186.6 L767.5 938.4 M504.2 182.8 L777.8 934.6 M514.5 179.1 L788.2 930.8 M524.9 175.3 L798.5 927.1 M535.2 171.5 L808.8 923.3 M545.5 167.8 L819.2 919.5" fill="none" stroke="#d9d9da" stroke-width="1.8"/><path d="M1413 196 Q1380 260 1352 320 Q1335 360 1312 396 L1295 430" fill="none" stroke="#dadada" stroke-width="3.5" stroke-linejoin="round" stroke-linecap="round" /><path d="M622 205 Q628 230 632 258 Q634 290 630 310 Q631 335 636 355 Q645 383 659 394" fill="none" stroke="#e4d6a8" stroke-width="4.2" stroke-linejoin="round" stroke-linecap="round" /><path d="M622 205 Q628 230 632 258 Q634 290 630 310 Q631 335 636 355 Q645 383 659 394" fill="none" stroke="#f8ecc8" stroke-width="2.2" stroke-linejoin="round" stroke-linecap="round" /><path d="M555 196 Q557 212 559 225 Q575 238 588 254 Q586 262 580 265 Q565 268 559 275 Q558 284 563 288 Q572 291 576 296 Q578 304 572 308.5 Q558 314 551 321 Q547 330 547 338 Q543 348 538 354 Q528 362 517.5 367 Q505 376 492.5 383.5 Q478 392 463 396 Q445 398 430 396 Q424 400 426 408.5 Q432 420 442.5 429 Q450 437 450 447 Q452 456 457 462 Q462 469 468 473 Q472 476 476 476 Q481 475 486 472.6 Q496 466 504.5 460 Q510 457 513.6 458 Q517 461 515.4 463.5 Q510 467 504.5 469 Q496 474 490 480 Q488 485 490 487 Q494 489 497.3 487 Q504 482 510 476 Q514 473 517.2 474.4 Q521 477 520 480 Q518 485 513.6 489 Q505 496 495.5 501.6 Q482 507 468 509 Q458 511 450 510 Q440 505 432 498 Q425 493 421 488" fill="none" stroke="#e4d6a8" stroke-width="4.2" stroke-linejoin="round" stroke-linecap="round" /><path d="M555 196 Q557 212 559 225 Q575 238 588 254 Q586 262 580 265 Q565 268 559 275 Q558 284 563 288 Q572 291 576 296 Q578 304 572 308.5 Q558 314 551 321 Q547 330 547 338 Q543 348 538 354 Q528 362 517.5 367 Q505 376 492.5 383.5 Q478 392 463 396 Q445 398 430 396 Q424 400 426 408.5 Q432 420 442.5 429 Q450 437 450 447 Q452 456 457 462 Q462 469 468 473 Q472 476 476 476 Q481 475 486 472.6 Q496 466 504.5 460 Q510 457 513.6 458 Q517 461 515.4 463.5 Q510 467 504.5 469 Q496 474 490 480 Q488 485 490 487 Q494 489 497.3 487 Q504 482 510 476 Q514 473 517.2 474.4 Q521 477 520 480 Q518 485 513.6 489 Q505 496 495.5 501.6 Q482 507 468 509 Q458 511 450 510 Q440 505 432 498 Q425 493 421 488" fill="none" stroke="#f8ecc8" stroke-width="2.2" stroke-linejoin="round" stroke-linecap="round" /><path d="M307 241 Q320 235 334 238" fill="none" stroke="#e4d6a8" stroke-width="4.2" stroke-linejoin="round" stroke-linecap="round" /><path d="M307 241 Q320 235 334 238" fill="none" stroke="#f8ecc8" stroke-width="2.2" stroke-linejoin="round" stroke-linecap="round" /><path d="M745 242 L800 242 Q820 242 837 239 Q842 235 847 235 L931 236" fill="none" stroke="#e4d6a8" stroke-width="4.2" stroke-linejoin="round" stroke-linecap="round" /><path d="M745 242 L800 242 Q820 242 837 239 Q842 235 847 235 L931 236" fill="none" stroke="#f8ecc8" stroke-width="2.2" stroke-linejoin="round" stroke-linecap="round" /><path d="M928 196 Q930 215 931 222 Q936 234 943 245 L943 591" fill="none" stroke="#e4d6a8" stroke-width="4.2" stroke-linejoin="round" stroke-linecap="round" /><path d="M928 196 Q930 215 931 222 Q936 234 943 245 L943 591" fill="none" stroke="#f8ecc8" stroke-width="2.2" stroke-linejoin="round" stroke-linecap="round" /><path d="M1004 196 Q998 212 995 230 L995 562" fill="none" stroke="#e4d6a8" stroke-width="4.2" stroke-linejoin="round" stroke-linecap="round" /><path d="M1004 196 Q998 212 995 230 L995 562" fill="none" stroke="#f8ecc8" stroke-width="2.2" stroke-linejoin="round" stroke-linecap="round" /><path d="M1068 196 Q1080 215 1090 247 L1090 491 Q1060 508 1029 527 Q1024 545 1021 562 L943 562" fill="none" stroke="#e4d6a8" stroke-width="4.2" stroke-linejoin="round" stroke-linecap="round" /><path d="M1068 196 Q1080 215 1090 247 L1090 491 Q1060 508 1029 527 Q1024 545 1021 562 L943 562" fill="none" stroke="#f8ecc8" stroke-width="2.2" stroke-linejoin="round" stroke-linecap="round" /><path d="M725 524 L1029 524" fill="none" stroke="#e4d6a8" stroke-width="4.2" stroke-linejoin="round" stroke-linecap="round" /><path d="M725 524 L1029 524" fill="none" stroke="#f8ecc8" stroke-width="2.2" stroke-linejoin="round" stroke-linecap="round" /><path d="M747 196 Q743 243 742 290 Q740 305 737 312 Q730 330 725 338 Q718 350 711 353 Q700 357 688 359 Q676 362 671 366 Q664 372 664 380 Q662 390 661 397 Q660 420 662 405 Q664 425 672 443 Q680 460 692 476 Q710 492 715 501 Q722 515 723 527 Q724 548 715 570 Q710 582 707 591" fill="none" stroke="#e6b95e" stroke-width="5.5" stroke-linejoin="round" stroke-linecap="round" /><path d="M747 196 Q743 243 742 290 Q740 305 737 312 Q730 330 725 338 Q718 350 711 353 Q700 357 688 359 Q676 362 671 366 Q664 372 664 380 Q662 390 661 397 Q660 420 662 405 Q664 425 672 443 Q680 460 692 476 Q710 492 715 501 Q722 515 723 527 Q724 548 715 570 Q710 582 707 591" fill="none" stroke="#fbe1a0" stroke-width="3.3" stroke-linejoin="round" stroke-linecap="round" /><path d="M740 312 Q741 320 741 330 L741 395" fill="none" stroke="#e6b95e" stroke-width="5.5" stroke-linejoin="round" stroke-linecap="round" /><path d="M740 312 Q741 320 741 330 L741 395" fill="none" stroke="#fbe1a0" stroke-width="3.3" stroke-linejoin="round" stroke-linecap="round" /><path d="M661 397 Q672 394 683 394 Q695 390 702 390 Q716 390 725 391 Q732 394 735 397 L943 397" fill="none" stroke="#e6b95e" stroke-width="5.5" stroke-linejoin="round" stroke-linecap="round" /><path d="M661 397 Q672 394 683 394 Q695 390 702 390 Q716 390 725 391 Q732 394 735 397 L943 397" fill="none" stroke="#fbe1a0" stroke-width="3.3" stroke-linejoin="round" stroke-linecap="round" /><path d="M943 397 L1093 397" fill="none" stroke="#e4d6a8" stroke-width="4.2" stroke-linejoin="round" stroke-linecap="round" /><path d="M943 397 L1093 397" fill="none" stroke="#f8ecc8" stroke-width="2.2" stroke-linejoin="round" stroke-linecap="round" /><path d="M307 438 Q318 450 327 456 Q342 461 359 464 Q386 472 407 480 Q418 484 421 489 Q428 498 432 503 Q437 510 443 514 Q449 519 456 519 Q470 518 486 515 Q500 516 514 517 Q530 518 545 519 Q565 521 584 527 Q610 538 634 552 Q665 563 697 572 L707 578" fill="none" stroke="#e6b95e" stroke-width="5.5" stroke-linejoin="round" stroke-linecap="round" /><path d="M307 438 Q318 450 327 456 Q342 461 359 464 Q386 472 407 480 Q418 484 421 489 Q428 498 432 503 Q437 510 443 514 Q449 519 456 519 Q470 518 486 515 Q500 516 514 517 Q530 518 545 519 Q565 521 584 527 Q610 538 634 552 Q665 563 697 572 L707 578" fill="none" stroke="#fbe1a0" stroke-width="3.3" stroke-linejoin="round" stroke-linecap="round" /><path d="M952 196 Q954 206 960 213 Q968 215 976 214 Q1000 216 1027 219" fill="none" stroke="#9d78cf" stroke-width="4" stroke-linejoin="round" stroke-linecap="round" /><path d="M952 196 Q954 206 960 213 Q968 215 976 214 Q1000 216 1027 219" fill="none" stroke="#c6a4ec" stroke-width="1" stroke-linejoin="round" stroke-linecap="round" /><path d="M960 196 L961 221 Q960 232 953 241" fill="none" stroke="#9d78cf" stroke-width="5.5" stroke-linejoin="round" stroke-linecap="round" /><path d="M960 196 L961 221 Q960 232 953 241" fill="none" stroke="#c6a4ec" stroke-width="2.5" stroke-linejoin="round" stroke-linecap="round" /><path d="M961 221 Q975 224 989 223 Q1010 222 1027 221 Q1052 216 1075 208 Q1090 202 1100 199 Q1112 200 1140 201 Q1170 205 1195 210 Q1223 215 1262 221 Q1280 221 1294 217 Q1310 210 1327 201 L1337 195" fill="none" stroke="#9d78cf" stroke-width="7.5" stroke-linejoin="round" stroke-linecap="round" /><path d="M961 221 Q975 224 989 223 Q1010 222 1027 221 Q1052 216 1075 208 Q1090 202 1100 199 Q1112 200 1140 201 Q1170 205 1195 210 Q1223 215 1262 221 Q1280 221 1294 217 Q1310 210 1327 201 L1337 195" fill="none" stroke="#c6a4ec" stroke-width="4.5" stroke-linejoin="round" stroke-linecap="round" /><path d="M1264 196 Q1246 235 1243 259 Q1242 278 1249 291 Q1256 308 1264 322 Q1272 334 1281 344 Q1290 356 1298 362 Q1306 366 1315 365 Q1326 360 1334 348 L1357 314 L1378 272" fill="none" stroke="#8c8c8c" stroke-width="0.8" stroke-linejoin="round" stroke-linecap="round" /><path d="M1340 204 Q1322 235 1319 249 Q1316 258 1317 266 Q1319 277 1325 285 Q1334 292 1346 292 Q1356 290 1361 285 Q1368 276 1374 266 L1386 240" fill="none" stroke="#8c8c8c" stroke-width="0.8" stroke-linejoin="round" stroke-linecap="round" /><path d="M1400 196 L1352 300 L1308 396 Q1301 425 1304 440 Q1312 452 1322 456 L1370 440.0 L1459 410.0" fill="none" stroke="#8c8c8c" stroke-width="0.7" stroke-linejoin="round" stroke-linecap="round" /><path d="M1403 196 L1355 300 L1311 396 Q1304 425 1307 440 Q1315 452 1325 456 L1370 441.8 L1459 411.8" fill="none" stroke="#8c8c8c" stroke-width="0.7" stroke-linejoin="round" stroke-linecap="round" /><path d="M1406 196 L1358 300 L1314 396 Q1307 425 1310 440 Q1318 452 1328 456 L1370 443.6 L1459 413.6" fill="none" stroke="#8c8c8c" stroke-width="0.7" stroke-linejoin="round" stroke-linecap="round" /><path d="M1409 196 L1361 300 L1317 396 Q1310 425 1313 440 Q1321 452 1331 456 L1370 445.4 L1459 415.4" fill="none" stroke="#8c8c8c" stroke-width="0.7" stroke-linejoin="round" stroke-linecap="round" /><path d="M1222 232 Q1214 270 1221 300 Q1225 320 1240 335 Q1250 345 1246 353 L1238 360" fill="none" stroke="#8c8c8c" stroke-width="0.7" stroke-linejoin="round" stroke-linecap="round" /><path d="M1476 196 L1517 300 Q1528 318 1575 326" fill="none" stroke="#8c8c8c" stroke-width="0.7" stroke-linejoin="round" stroke-linecap="round" /><path d="M1482 196 L1523 300 Q1534 314 1575 320" fill="none" stroke="#8c8c8c" stroke-width="0.7" stroke-linejoin="round" stroke-linecap="round" /><path d="M1488 196 L1530 298 Q1541 309 1575 314" fill="none" stroke="#8c8c8c" stroke-width="0.7" stroke-linejoin="round" stroke-linecap="round" /><path d="M1505 398 Q1540 410 1562 450 Q1572 480 1560 500 Q1540 518 1480 538 L1392 566" fill="none" stroke="#8c8c8c" stroke-width="0.7" stroke-linejoin="round" stroke-linecap="round" /><path d="M1558 497 Q1530 512 1480 530 L1392 560" fill="none" stroke="#8c8c8c" stroke-width="0.7" stroke-linejoin="round" stroke-linecap="round" /><path d="M1500 392 L1340 450" fill="none" stroke="#8c8c8c" stroke-width="0.7" stroke-linejoin="round" stroke-linecap="round" /></g></svg>
<svg class="a" style="left:307px;top:196px" width="1268" height="395" viewBox="307 196 1268 395" font-family="Liberation Sans"><defs><clipPath id="mc2"><rect x="307" y="196" width="1268" height="395"/></clipPath></defs><g clip-path="url(#mc2)"><text x="554" y="218" font-size="12.5" fill="#4a4a4a" text-anchor="middle" stroke="#f2f1ec" stroke-width="2.2" paint-order="stroke" stroke-linejoin="round" >Miraleste</text><text x="429" y="231" font-size="9.3" fill="#3a3a3a" text-anchor="start" stroke="#f2f1ec" stroke-width="2.2" paint-order="stroke" stroke-linejoin="round" >Crest Rd</text><text x="318" y="250" font-size="10" fill="#3a3a3a" text-anchor="middle" transform="rotate(-62 318 250)" stroke="#f2f1ec" stroke-width="2.2" paint-order="stroke" stroke-linejoin="round" >Southfield</text><text x="534" y="329" font-size="10.5" fill="#7d6b5d" text-anchor="middle" stroke="#f2f1ec" stroke-width="2.2" paint-order="stroke" stroke-linejoin="round" font-variant="small-caps">San Pedro Hill</text><text x="492.5" y="386.5" font-size="10.5" fill="#7d6b5d" text-anchor="middle" stroke="#f2f1ec" stroke-width="2.2" paint-order="stroke" stroke-linejoin="round" font-variant="small-caps">East Rancho Palos</text><text x="492.5" y="397" font-size="10.5" fill="#7d6b5d" text-anchor="middle" stroke="#f2f1ec" stroke-width="2.2" paint-order="stroke" stroke-linejoin="round" font-variant="small-caps">Verdes</text><text x="372" y="387" font-size="9.6" fill="#3a3a3a" text-anchor="middle" transform="rotate(36 372 387)" stroke="#f2f1ec" stroke-width="2.2" paint-order="stroke" stroke-linejoin="round" >Hightide Dr</text><text x="442" y="426" font-size="9.6" fill="#3a3a3a" text-anchor="middle" transform="rotate(38 442 426)" stroke="#f2f1ec" stroke-width="2.2" paint-order="stroke" stroke-linejoin="round" >Palos</text><text x="455" y="449" font-size="9.6" fill="#3a3a3a" text-anchor="middle" transform="rotate(68 455 449)" stroke="#f2f1ec" stroke-width="2.2" paint-order="stroke" stroke-linejoin="round" >Verdes</text><text x="470" y="475" font-size="9.6" fill="#3a3a3a" text-anchor="middle" transform="rotate(28 470 475)" stroke="#f2f1ec" stroke-width="2.2" paint-order="stroke" stroke-linejoin="round" >Dr E</text><text x="301" y="482.5" font-size="10.5" fill="#5b7658" text-anchor="start" >Trump Nat'l Golf</text><text x="302" y="495.5" font-size="10.5" fill="#5b7658" text-anchor="start" >Club-Los Angelas</text><text x="421" y="520" font-size="9.6" fill="#3a3a3a" text-anchor="middle" transform="rotate(27 421 520)" stroke="#f2f1ec" stroke-width="2.2" paint-order="stroke" stroke-linejoin="round" >La Rotonda Dr</text><text x="543" y="526.5" font-size="12" fill="#333" text-anchor="middle" transform="rotate(7 543 526.5)" stroke="#f2f1ec" stroke-width="2.2" paint-order="stroke" stroke-linejoin="round" >W 25th St</text><text x="629" y="504" font-size="9.6" fill="#3a3a3a" text-anchor="middle" transform="rotate(22 629 504)" stroke="#f2f1ec" stroke-width="2.2" paint-order="stroke" stroke-linejoin="round" >Palacios Dr</text><text x="578" y="590" font-size="9.6" fill="#3a3a3a" text-anchor="middle" transform="rotate(8 578 590)" stroke="#f2f1ec" stroke-width="2.2" paint-order="stroke" stroke-linejoin="round" >W 35th St</text><text x="678" y="346" font-size="9.6" fill="#3a3a3a" text-anchor="middle" transform="rotate(15 678 346)" stroke="#f2f1ec" stroke-width="2.2" paint-order="stroke" stroke-linejoin="round" >El Rey Rd</text><text x="631" y="238" font-size="9.6" fill="#3a3a3a" text-anchor="middle" transform="rotate(77 631 238)" stroke="#f2f1ec" stroke-width="2.2" paint-order="stroke" stroke-linejoin="round" >Miraleste Dr</text><text x="678" y="441" font-size="10.4" fill="#3a3a3a" text-anchor="middle" transform="rotate(63 678 441)" stroke="#f2f1ec" stroke-width="2.2" paint-order="stroke" stroke-linejoin="round" >S Western Ave</text><text x="724" y="290" font-size="9.6" fill="#3a3a3a" text-anchor="middle" transform="rotate(20 724 290)" stroke="#f2f1ec" stroke-width="2.2" paint-order="stroke" stroke-linejoin="round" >W 1st St</text><text x="775" y="224.5" font-size="12" fill="#5e7d5b" text-anchor="middle" stroke="#f2f1ec" stroke-width="2.2" paint-order="stroke" stroke-linejoin="round" >Peck Park</text><text x="790" y="245" font-size="11" fill="#333" text-anchor="middle" transform="rotate(-1.5 790 245)" stroke="#f2f1ec" stroke-width="2.2" paint-order="stroke" stroke-linejoin="round" >W Summerland Ave</text><text x="868" y="250" font-size="10" fill="#3a3a3a" text-anchor="middle" transform="rotate(-90 868 250)" stroke="#f2f1ec" stroke-width="2.2" paint-order="stroke" stroke-linejoin="round" >N Bandini St</text><text x="946" y="210" font-size="10" fill="#3a3a3a" text-anchor="middle" transform="rotate(-90 946 210)" stroke="#f2f1ec" stroke-width="2.2" paint-order="stroke" stroke-linejoin="round" >N Gaffey St</text><text x="1040.5" y="298.5" font-size="10" fill="#3a3a3a" text-anchor="middle" stroke="#f2f1ec" stroke-width="2.2" paint-order="stroke" stroke-linejoin="round" >W 1st St</text><text x="998" y="258" font-size="10.4" fill="#3a3a3a" text-anchor="middle" transform="rotate(-90 998 258)" stroke="#f2f1ec" stroke-width="2.2" paint-order="stroke" stroke-linejoin="round" >N Pacific Ave</text><text x="1087" y="259" font-size="10.4" fill="#3a3a3a" text-anchor="middle" transform="rotate(84 1087 259)" stroke="#f2f1ec" stroke-width="2.2" paint-order="stroke" stroke-linejoin="round" >N Harbor Blvd</text><text x="1091" y="338" font-size="10.4" fill="#3a3a3a" text-anchor="middle" transform="rotate(-90 1091 338)" stroke="#f2f1ec" stroke-width="2.2" paint-order="stroke" stroke-linejoin="round" >S Harbor Blvd</text><text x="790" y="322" font-size="9.8" fill="#3a3a3a" text-anchor="middle" stroke="#f2f1ec" stroke-width="2.2" paint-order="stroke" stroke-linejoin="round" >W 3rd St</text><text x="785.5" y="334.5" font-size="9.8" fill="#8a7566" text-anchor="middle" stroke="#f2f1ec" stroke-width="2.2" paint-order="stroke" stroke-linejoin="round" >Providence</text><text x="785.5" y="346.5" font-size="9.8" fill="#8a7566" text-anchor="middle" stroke="#f2f1ec" stroke-width="2.2" paint-order="stroke" stroke-linejoin="round" >Lit'l Co</text><text x="785.5" y="358.5" font-size="9.8" fill="#8a7566" text-anchor="middle" stroke="#f2f1ec" stroke-width="2.2" paint-order="stroke" stroke-linejoin="round" >Mary</text><text x="785.5" y="370.5" font-size="9.8" fill="#8a7566" text-anchor="middle" stroke="#f2f1ec" stroke-width="2.2" paint-order="stroke" stroke-linejoin="round" >Medical</text><text x="785.5" y="382.5" font-size="9.8" fill="#8a7566" text-anchor="middle" stroke="#f2f1ec" stroke-width="2.2" paint-order="stroke" stroke-linejoin="round" >Center</text><text x="826" y="360" font-size="9.8" fill="#3a3a3a" text-anchor="middle" stroke="#f2f1ec" stroke-width="2.2" paint-order="stroke" stroke-linejoin="round" >W 6th St</text><text x="874" y="325.7" font-size="10.5" fill="#7d6b5d" text-anchor="middle" stroke="#f2f1ec" stroke-width="2.2" paint-order="stroke" stroke-linejoin="round" font-variant="small-caps">San Pedro</text><text x="949" y="327" font-size="10.4" fill="#3a3a3a" text-anchor="middle" transform="rotate(-90 949 327)" stroke="#f2f1ec" stroke-width="2.2" paint-order="stroke" stroke-linejoin="round" >S Gaffey St</text><text x="964.5" y="363" font-size="10.5" fill="#7d6b5d" text-anchor="middle" stroke="#f2f1ec" stroke-width="2.2" paint-order="stroke" stroke-linejoin="round" font-variant="small-caps">Central San Pedro</text><text x="765" y="402" font-size="12" fill="#333" text-anchor="middle" stroke="#f2f1ec" stroke-width="2.2" paint-order="stroke" stroke-linejoin="round" >W 9th St</text><text x="888" y="402" font-size="12" fill="#333" text-anchor="middle" stroke="#f2f1ec" stroke-width="2.2" paint-order="stroke" stroke-linejoin="round" >W 9th St</text><text x="841.5" y="426" font-size="10" fill="#3a3a3a" text-anchor="middle" transform="rotate(-90 841.5 426)" stroke="#f2f1ec" stroke-width="2.2" paint-order="stroke" stroke-linejoin="round" >S Leland St</text><text x="866.5" y="451" font-size="10" fill="#3a3a3a" text-anchor="middle" transform="rotate(-90 866.5 451)" stroke="#f2f1ec" stroke-width="2.2" paint-order="stroke" stroke-linejoin="round" >S Alma St</text><text x="815" y="507" font-size="10" fill="#3a3a3a" text-anchor="middle" transform="rotate(-90 815 507)" stroke="#f2f1ec" stroke-width="2.2" paint-order="stroke" stroke-linejoin="round" >S Walker Ave</text><text x="892" y="538" font-size="10" fill="#3a3a3a" text-anchor="middle" transform="rotate(-90 892 538)" stroke="#f2f1ec" stroke-width="2.2" paint-order="stroke" stroke-linejoin="round" >S Meyler St</text><text x="946" y="487" font-size="10.4" fill="#3a3a3a" text-anchor="middle" transform="rotate(-90 946 487)" stroke="#f2f1ec" stroke-width="2.2" paint-order="stroke" stroke-linejoin="round" >S Gaffey St</text><text x="755" y="528" font-size="11" fill="#333" text-anchor="middle" stroke="#f2f1ec" stroke-width="2.2" paint-order="stroke" stroke-linejoin="round" >W 19th St</text><text x="961" y="528" font-size="11" fill="#333" text-anchor="middle" stroke="#f2f1ec" stroke-width="2.2" paint-order="stroke" stroke-linejoin="round" >W 19th St</text><text x="1056" y="451" font-size="10.4" fill="#3a3a3a" text-anchor="middle" stroke="#f2f1ec" stroke-width="2.2" paint-order="stroke" stroke-linejoin="round" >W 13th St</text><text x="999" y="450" font-size="10" fill="#3a3a3a" text-anchor="middle" transform="rotate(-90 999 450)" stroke="#f2f1ec" stroke-width="2.2" paint-order="stroke" stroke-linejoin="round" >S Pacific Ave</text><text x="1058" y="519" font-size="10.4" fill="#3a3a3a" text-anchor="middle" transform="rotate(-38 1058 519)" stroke="#f2f1ec" stroke-width="2.2" paint-order="stroke" stroke-linejoin="round" >S Crescent Ave</text><text x="956" y="578" font-size="10.4" fill="#3a3a3a" text-anchor="middle" stroke="#f2f1ec" stroke-width="2.2" paint-order="stroke" stroke-linejoin="round" >W 23rd St</text><text x="1118" y="535" font-size="10.4" fill="#3a3a3a" text-anchor="middle" transform="rotate(-17 1118 535)" stroke="#f2f1ec" stroke-width="2.2" paint-order="stroke" stroke-linejoin="round" >E 22nd St</text><text x="1123" y="443" font-size="9.8" fill="#3a3a3a" text-anchor="middle" transform="rotate(66 1123 443)" stroke="#f2f1ec" stroke-width="2.2" paint-order="stroke" stroke-linejoin="round" >Nagoya Way</text><text x="1036" y="585" font-size="9.6" fill="#3a3a3a" text-anchor="middle" transform="rotate(70 1036 585)" stroke="#f2f1ec" stroke-width="2.2" paint-order="stroke" stroke-linejoin="round" >Via</text><text x="1172" y="582" font-size="9.6" fill="#3a3a3a" text-anchor="middle" transform="rotate(72 1172 582)" stroke="#f2f1ec" stroke-width="2.2" paint-order="stroke" stroke-linejoin="round" >Signal</text><text x="1154" y="432" font-size="11" fill="#5b7fc0" text-anchor="middle" transform="rotate(70 1154 432)" font-style="italic">Avalon-San Pedro Ferry</text><text x="1142" y="292" font-size="11" fill="#5b7fc0" text-anchor="middle" transform="rotate(-70 1142 292)" font-style="italic">San Pedro-Two Harbo</text><text x="1137" y="228" font-size="11" fill="#5b7fc0" text-anchor="middle" transform="rotate(208 1137 228)" font-style="italic">rs Ferry</text><text x="1219" y="355" font-size="10" fill="#3a3a3a" text-anchor="middle" transform="rotate(63 1219 355)" stroke="#f2f1ec" stroke-width="2.2" paint-order="stroke" stroke-linejoin="round" >Tuna St</text><text x="1272" y="211" font-size="12.3" fill="#7d6b5d" text-anchor="start" stroke="#f2f1ec" stroke-width="2.2" paint-order="stroke" stroke-linejoin="round" font-style="italic" letter-spacing="-0.1">Terminal Island</text><text x="1298.5" y="240.5" font-size="10" fill="#8a7566" text-anchor="middle" stroke="#f2f1ec" stroke-width="2.2" paint-order="stroke" stroke-linejoin="round" >Port of Los Angeles</text><text x="1342.5" y="330.5" font-size="9.9" fill="#8a7566" text-anchor="middle" stroke="#f2f1ec" stroke-width="2.2" paint-order="stroke" stroke-linejoin="round" >BNSF-Port of Los Angeles</text><text x="1400" y="230" font-size="10" fill="#3a3a3a" text-anchor="middle" transform="rotate(-62 1400 230)" stroke="#f2f1ec" stroke-width="2.2" paint-order="stroke" stroke-linejoin="round" >Terminal Way</text><text x="1487" y="227" font-size="10" fill="#3a3a3a" text-anchor="middle" transform="rotate(70 1487 227)" stroke="#f2f1ec" stroke-width="2.2" paint-order="stroke" stroke-linejoin="round" >Navy Mole Rd</text><text x="1562" y="314" font-size="10" fill="#3a3a3a" text-anchor="middle" transform="rotate(12 1562 314)" stroke="#f2f1ec" stroke-width="2.2" paint-order="stroke" stroke-linejoin="round" >Nimitz</text><text x="1522" y="367" font-size="10" fill="#3a3a3a" text-anchor="middle" transform="rotate(68 1522 367)" stroke="#f2f1ec" stroke-width="2.2" paint-order="stroke" stroke-linejoin="round" >Navy Way</text><text x="1297" y="396" font-size="10" fill="#3a3a3a" text-anchor="middle" transform="rotate(90 1297 396)" stroke="#f2f1ec" stroke-width="2.2" paint-order="stroke" stroke-linejoin="round" >Earle St</text><text x="1221" y="470" font-size="10" fill="#3a3a3a" text-anchor="middle" transform="rotate(-90 1221 470)" stroke="#f2f1ec" stroke-width="2.2" paint-order="stroke" stroke-linejoin="round" >S Seaside Ave</text><text x="1292.5" y="491" font-size="11.7" fill="#4a69b2" text-anchor="middle" font-style="italic">Los Angeles Harbor</text><rect x="932.0" y="264.5" width="21.0" height="14.5" rx="3" fill="#fff" stroke="#777" stroke-width="1"/><text x="942.5" y="275.5" font-size="9.5" font-weight="bold" fill="#222" text-anchor="middle">110</text><rect x="1195.5" y="204.5" width="21.5" height="14" rx="3" fill="#fff" stroke="#777" stroke-width="1"/><text x="1206.25" y="215" font-size="9.5" font-weight="bold" fill="#222" text-anchor="middle">47</text><rect x="693.5" y="573.5" width="21" height="14" rx="3" fill="#fff" stroke="#777" stroke-width="1"/><text x="704.0" y="584" font-size="9.5" font-weight="bold" fill="#222" text-anchor="middle">213</text><rect x="952.5" y="225.5" width="11" height="11" fill="#00f582" stroke="#000" stroke-width="1.1"/><rect x="937.5" y="252.5" width="11" height="11" fill="#00f582" stroke="#000" stroke-width="1.1"/><rect x="739.5" y="290.5" width="11" height="11" fill="#00f582" stroke="#000" stroke-width="1.1"/><rect x="790.5" y="291.5" width="11" height="11" fill="#00f582" stroke="#000" stroke-width="1.1"/><rect x="843.5" y="292.5" width="11" height="11" fill="#00f582" stroke="#000" stroke-width="1.1"/><rect x="898.5" y="292.5" width="11" height="11" fill="#00f582" stroke="#000" stroke-width="1.1"/><rect x="937.5" y="290.5" width="11" height="11" fill="#00f582" stroke="#000" stroke-width="1.1"/><rect x="715.5" y="343.5" width="11" height="11" fill="#00f582" stroke="#000" stroke-width="1.1"/><rect x="675.5" y="365.5" width="11" height="11" fill="#00f582" stroke="#000" stroke-width="1.1"/><rect x="679.5" y="368.5" width="11" height="11" fill="#00f582" stroke="#000" stroke-width="1.1"/><rect x="682.5" y="383.5" width="11" height="11" fill="#00f582" stroke="#000" stroke-width="1.1"/><rect x="675.5" y="388.5" width="11" height="11" fill="#00f582" stroke="#000" stroke-width="1.1"/><rect x="710.5" y="383.5" width="11" height="11" fill="#00f582" stroke="#000" stroke-width="1.1"/><rect x="734.5" y="392.5" width="11" height="11" fill="#00f582" stroke="#000" stroke-width="1.1"/><rect x="772.5" y="392.5" width="11" height="11" fill="#00f582" stroke="#000" stroke-width="1.1"/><rect x="802.5" y="393.5" width="11" height="11" fill="#00f582" stroke="#000" stroke-width="1.1"/><rect x="830.5" y="393.5" width="11" height="11" fill="#00f582" stroke="#000" stroke-width="1.1"/><rect x="867.5" y="393.5" width="11" height="11" fill="#00f582" stroke="#000" stroke-width="1.1"/><rect x="921.5" y="393.5" width="11" height="11" fill="#00f582" stroke="#000" stroke-width="1.1"/><rect x="937.5" y="401.5" width="11" height="11" fill="#00f582" stroke="#000" stroke-width="1.1"/><rect x="947.5" y="431.5" width="11" height="11" fill="#00f582" stroke="#000" stroke-width="1.1"/><rect x="964.5" y="428.5" width="11" height="11" fill="#00f582" stroke="#000" stroke-width="1.1"/><rect x="963.5" y="436.5" width="11" height="11" fill="#00f582" stroke="#000" stroke-width="1.1"/><rect x="980.5" y="430.5" width="11" height="11" fill="#00f582" stroke="#000" stroke-width="1.1"/><rect x="978.5" y="444.5" width="11" height="11" fill="#00f582" stroke="#000" stroke-width="1.1"/><rect x="990.5" y="442.5" width="11" height="11" fill="#00f582" stroke="#000" stroke-width="1.1"/><rect x="974.5" y="418.5" width="11" height="11" fill="#00f582" stroke="#000" stroke-width="1.1"/><rect x="987.5" y="418.5" width="11" height="11" fill="#00f582" stroke="#000" stroke-width="1.1"/><rect x="936.5" y="389.5" width="10" height="10" fill="#ffff00" stroke="#000" stroke-width="2"/></g></svg>
<div class="a" style="left:948px;top:389.5px;width:117px;height:41px;background:rgba(255,255,255,0.86);border:1px solid #8f8f8f"></div>
<div class="a nw" style="top:392.88px;font-size:10.3px;line-height:10.3px;color:#2e2e2e;left:951.8px;font-weight:bold">Hour: 11:39:52 PM</div>
<div class="a nw" style="top:404.71px;font-size:10.5px;line-height:10.5px;color:#2e2e2e;left:951.8px;font-weight:bold;letter-spacing:-0.1px">Vehicle: idrive Van SB</div>
<div class="a nw" style="top:416.78px;font-size:10.3px;line-height:10.3px;color:#2e2e2e;left:952.6px;font-weight:bold">Speed: 0.00 (MPH)</div>
<div class="a" style="left:307px;top:196px;width:394px;height:26.5px;background:rgba(56,94,149,0.8);"></div>
<div class="a" style="left:307px;top:222.5px;width:30px;height:109px;background:rgba(56,94,149,0.8);"></div>
<svg class="a" style="left:307px;top:196px" width="400" height="140" viewBox="307 196 400 140"><defs><radialGradient id="ng" cx="0.45" cy="0.3" r="0.8"><stop offset="0" stop-color="#4d86d6"/><stop offset="0.55" stop-color="#2459ab"/><stop offset="1" stop-color="#3b78cc"/></radialGradient></defs><circle cx="346" cy="234" r="22.8" fill="#f2f2f2" stroke="#b8b8b8" stroke-width="0.8"/><circle cx="346" cy="234" r="20.8" fill="url(#ng)"/><path d="M326 236 Q346 226 366 236 L366 240 Q346 252 326 240z" fill="#1f4f9c" opacity="0.35"/><polygon points="362.50,234.00 357.60,237.90 357.60,235.40 354.80,235.40 354.80,232.60 357.60,232.60 357.60,230.10" fill="#dfe8f4"/><polygon points="346.00,250.50 342.10,245.60 344.60,245.60 344.60,242.80 347.40,242.80 347.40,245.60 349.90,245.60" fill="#dfe8f4"/><polygon points="329.50,234.00 334.40,230.10 334.40,232.60 337.20,232.60 337.20,235.40 334.40,235.40 334.40,237.90" fill="#dfe8f4"/><polygon points="346.00,217.50 349.90,222.40 347.40,222.40 347.40,225.20 344.60,225.20 344.60,222.40 342.10,222.40" fill="#dfe8f4"/><path d="M318.6 287.3 L315.6 290.3" stroke="#8cc8f4" stroke-width="2.4" stroke-linecap="round"/><circle cx="322.9" cy="283.1" r="5.1" fill="none" stroke="#f4f8fc" stroke-width="1.6"/><circle cx="322.9" cy="283.1" r="6.1" fill="none" stroke="#9cc9ef" stroke-width="0.6" opacity="0.8"/><path d="M320 283.1 h5.8" stroke="#fff" stroke-width="2.1"/><path d="M322.9 280.20000000000005 v5.8" stroke="#fff" stroke-width="2.1"/><path d="M318.6 315.2 L315.6 318.2" stroke="#8cc8f4" stroke-width="2.4" stroke-linecap="round"/><circle cx="322.9" cy="311" r="5.1" fill="none" stroke="#f4f8fc" stroke-width="1.6"/><circle cx="322.9" cy="311" r="6.1" fill="none" stroke="#9cc9ef" stroke-width="0.6" opacity="0.8"/><path d="M320 311 h5.8" stroke="#fff" stroke-width="2.1"/><path d="M568.5 203.5 V216.5 M617.5 203.5 V216.5" stroke="#8fa6c8" stroke-width="1"/><polygon points="404.8,220 408.2,216.6 411.6,220" fill="#c8d6ea"/><polygon points="589,220 592.4,216.6 595.8,220" fill="#a8b8cc"/></svg>
<div class="a nw" style="top:205.12px;font-size:11.2px;line-height:11.2px;color:#fff;left:394.8px;font-weight:bold">Road</div>
<div class="a nw" style="top:204.61px;font-size:11.8px;line-height:11.8px;color:#f2f5fa;left:447.3px;letter-spacing:0.2px">Aerial</div>
<div class="a nw" style="top:204.61px;font-size:11.8px;line-height:11.8px;color:#f2f5fa;left:500.4px;letter-spacing:0.3px">Bird's eye</div>
<div class="a nw" style="top:204.61px;font-size:11.8px;line-height:11.8px;color:#a9b3c2;left:574.6px;font-weight:bold;letter-spacing:-0.1px">Labels</div>
<div class="a nw" style="top:203.19px;font-size:11px;line-height:11px;color:#fff;left:684.7px;font-weight:bold;letter-spacing:-1px">&lt;&lt;</div>
<svg class="a" style="left:310px;top:560px" width="70" height="30" viewBox="310 560 70 30"><path d="M314.5 563.3 L319.5 564.8 V580.2 L327.5 575.6 L323.2 573.6 L321.4 569.4 L331.6 572.8 V578.2 L319.6 585.5 L314.5 582.5 Z" fill="#454545" stroke="#f4f6fa" stroke-width="0.8"/><text x="338.5" y="581.6" font-family="Liberation Sans" font-size="19" fill="#454545" stroke="#f4f6fa" stroke-width="1.6" paint-order="stroke" letter-spacing="0.2">bing</text></svg>
<svg class="a" style="left:1355px;top:548px" width="220" height="42" viewBox="1355 548 220 42"><text x="1563.5" y="561.5" font-family="Liberation Serif" font-weight="bold" font-size="12.3" fill="#111" text-anchor="end" stroke="#fff" stroke-width="2" paint-order="stroke">0.7 miles</text><rect x="1421.7" y="565.5" width="142.5" height="4.5" fill="#bcd3f3" stroke="#111" stroke-width="1.4"/><text x="1565" y="583" font-family="Liberation Serif" font-size="7.8" fill="#222" text-anchor="end" stroke="#fff" stroke-width="1.6" paint-order="stroke" letter-spacing="-0.1">&#169; 2014 Microsoft Corporation &#160;&#160; &#169; 2010 NAVTEQ &#160;&#160; &#169; AND</text></svg>
<svg class="a" style="left:1576px;top:719px" width="5" height="21" viewBox="1576 719 5 21"><rect x="1579" y="722" width="2" height="15" fill="#fff"/><path d="M1581 721.8 H1578.6 V737.2 H1581" fill="none" stroke="#000" stroke-width="1.2"/></svg>
</body></html>
